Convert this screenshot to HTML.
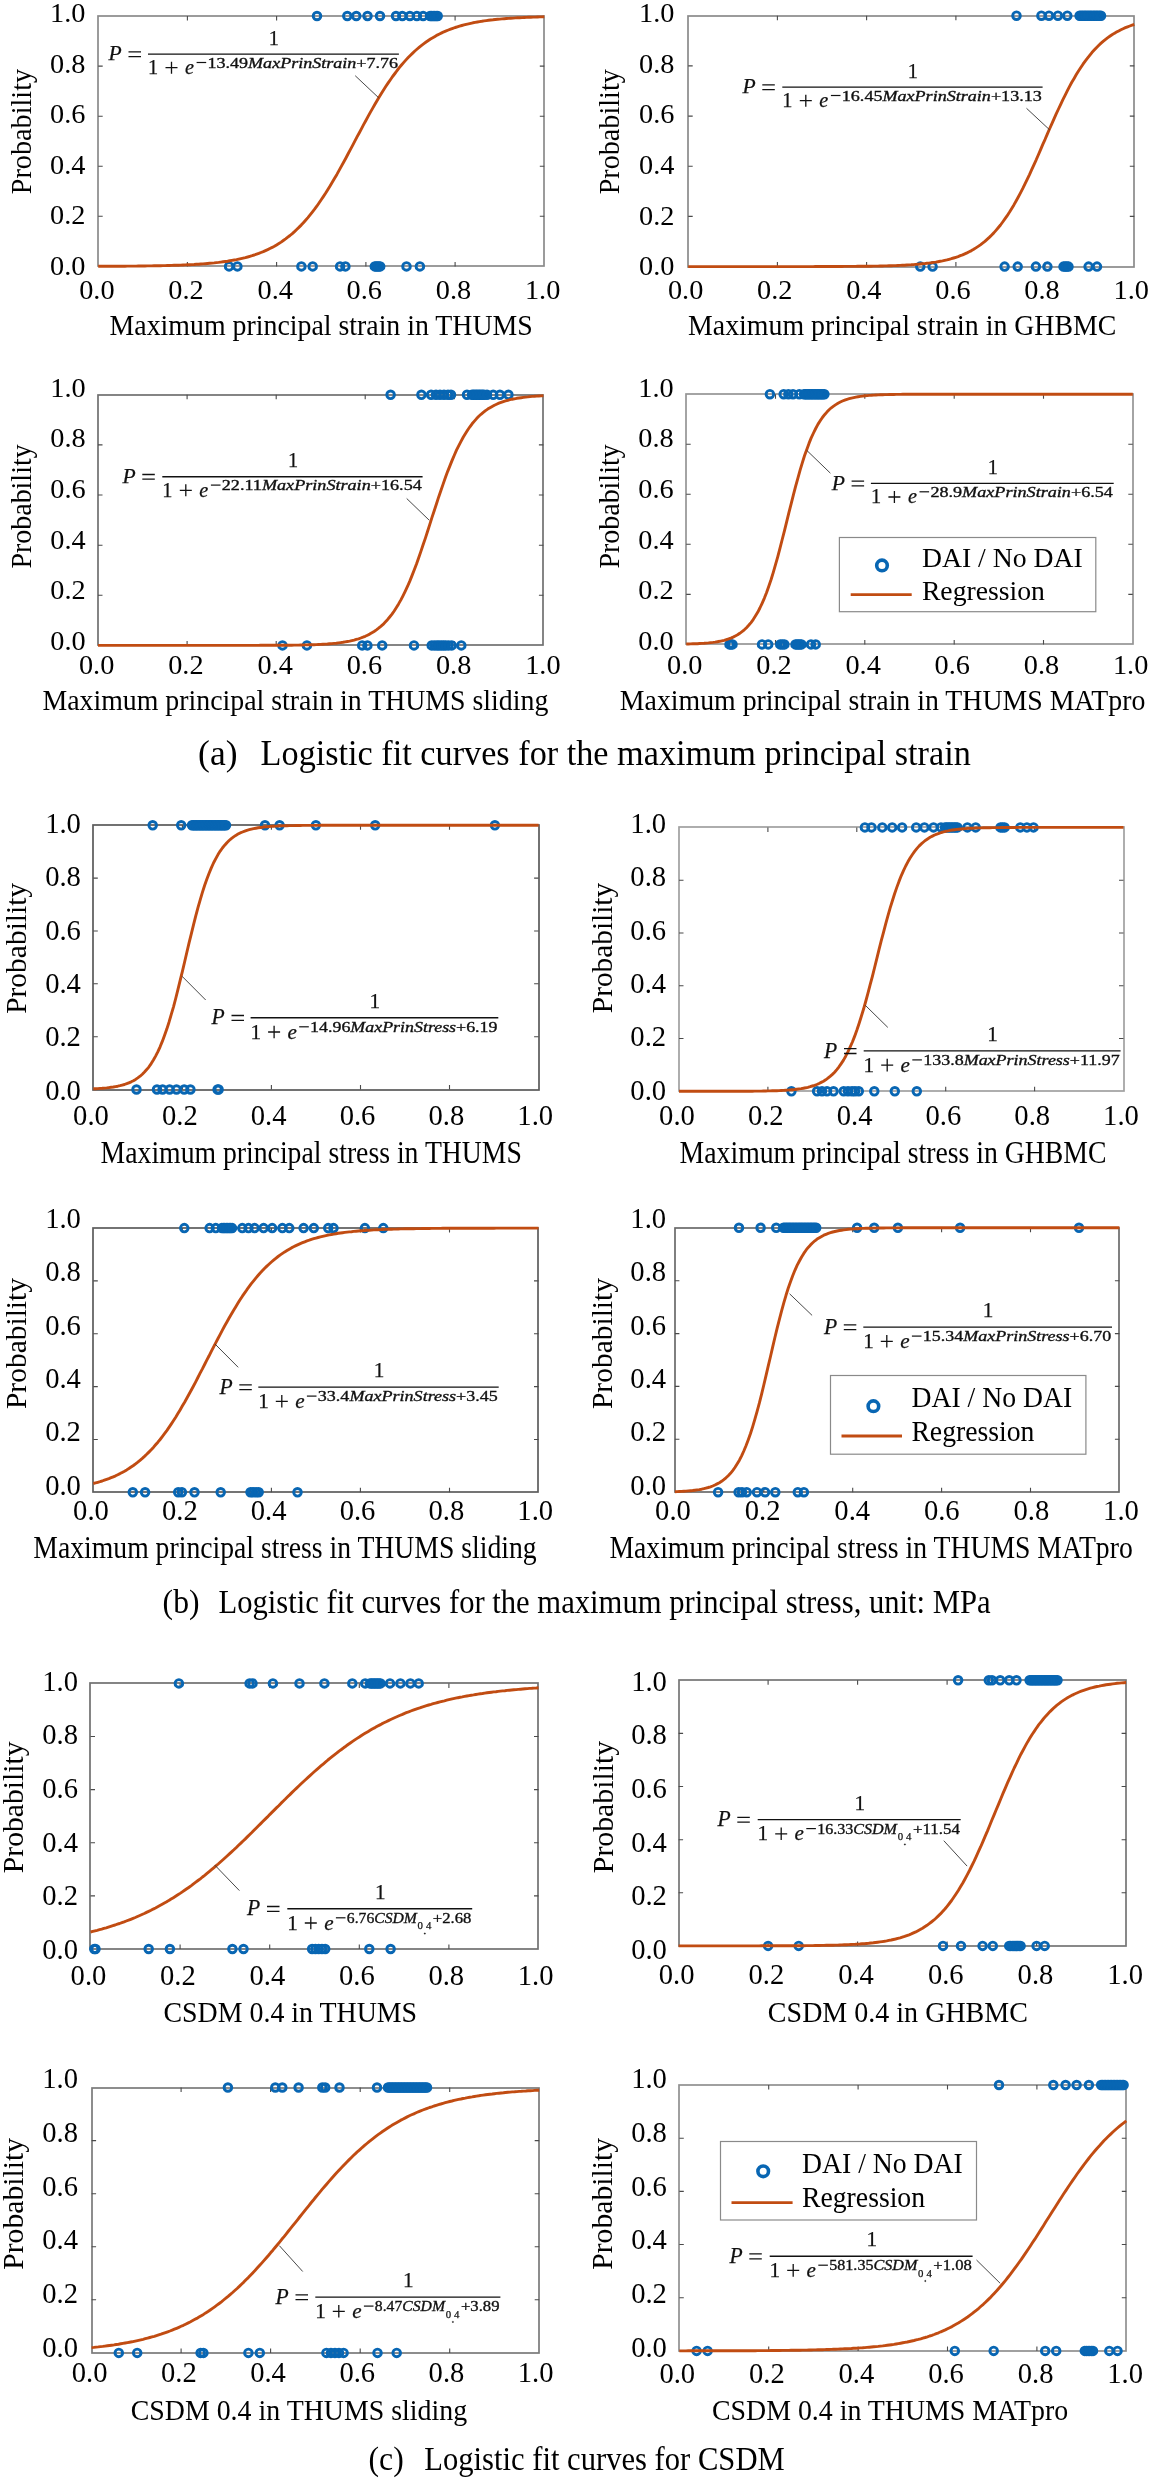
<!DOCTYPE html>
<html><head><meta charset="utf-8"><style>html,body{margin:0;padding:0;background:#fff;}svg{display:block;will-change:transform;}</style></head><body>
<svg width="1150" height="2480" viewBox="0 0 1150 2480" font-family="'Liberation Serif', serif" fill="#000">
<rect width="1150" height="2480" fill="#fff"/>
<rect x="98" y="16" width="446" height="250" fill="none" stroke="#8a8a8a" stroke-width="1.7"/>
<path d="M187.4,266.4v-4.5M187.4,16.0v4.5M98.2,216.3h4.5M544.3,216.3h-4.5M276.6,266.4v-4.5M276.6,16.0v4.5M98.2,166.2h4.5M544.3,166.2h-4.5M365.9,266.4v-4.5M365.9,16.0v4.5M98.2,116.2h4.5M544.3,116.2h-4.5M455.1,266.4v-4.5M455.1,16.0v4.5M98.2,66.1h4.5M544.3,66.1h-4.5" stroke="#4a4a4a" stroke-width="1.1" fill="none"/>
<text x="50.10" y="22.17" font-size="28.0" textLength="35.38" lengthAdjust="spacingAndGlyphs">1.0</text>
<text x="50.10" y="72.75" font-size="28.0" textLength="35.38" lengthAdjust="spacingAndGlyphs">0.8</text>
<text x="50.10" y="123.33" font-size="28.0" textLength="35.38" lengthAdjust="spacingAndGlyphs">0.6</text>
<text x="50.10" y="173.91" font-size="28.0" textLength="35.38" lengthAdjust="spacingAndGlyphs">0.4</text>
<text x="50.10" y="224.49" font-size="28.0" textLength="35.38" lengthAdjust="spacingAndGlyphs">0.2</text>
<text x="50.10" y="275.07" font-size="28.0" textLength="35.38" lengthAdjust="spacingAndGlyphs">0.0</text>
<text x="79.21" y="299.12" font-size="28.0" textLength="35.38" lengthAdjust="spacingAndGlyphs">0.0</text>
<text x="168.35" y="299.12" font-size="28.0" textLength="35.38" lengthAdjust="spacingAndGlyphs">0.2</text>
<text x="257.49" y="299.12" font-size="28.0" textLength="35.38" lengthAdjust="spacingAndGlyphs">0.4</text>
<text x="346.63" y="299.12" font-size="28.0" textLength="35.38" lengthAdjust="spacingAndGlyphs">0.6</text>
<text x="435.77" y="299.12" font-size="28.0" textLength="35.38" lengthAdjust="spacingAndGlyphs">0.8</text>
<text x="524.91" y="299.12" font-size="28.0" textLength="35.38" lengthAdjust="spacingAndGlyphs">1.0</text>
<text x="109.60" y="334.80" font-size="28.4" textLength="423.23" lengthAdjust="spacingAndGlyphs">Maximum principal strain in THUMS</text>
<text transform="translate(30.90,194.31) rotate(-90)" font-size="28.7" textLength="125.42" lengthAdjust="spacingAndGlyphs">Probability</text>
<g fill="none" stroke="#0866b3" stroke-width="2.9"><circle cx="317.0" cy="16.0" r="3.8"/><circle cx="347.3" cy="16.0" r="3.8"/><circle cx="356.3" cy="16.0" r="3.8"/><circle cx="367.5" cy="16.0" r="3.8"/><circle cx="380.0" cy="16.0" r="3.8"/><circle cx="396.0" cy="16.0" r="3.8"/><circle cx="402.3" cy="16.0" r="3.8"/><circle cx="409.9" cy="16.0" r="3.8"/><circle cx="416.9" cy="16.0" r="3.8"/><circle cx="423.1" cy="16.0" r="3.8"/><circle cx="430.1" cy="16.0" r="3.8"/><circle cx="431.6" cy="16.0" r="3.8"/><circle cx="433.1" cy="16.0" r="3.8"/><circle cx="434.7" cy="16.0" r="3.8"/><circle cx="436.2" cy="16.0" r="3.8"/><circle cx="437.7" cy="16.0" r="3.8"/><circle cx="229.1" cy="266.4" r="3.8"/><circle cx="237.4" cy="266.4" r="3.8"/><circle cx="301.4" cy="266.4" r="3.8"/><circle cx="312.7" cy="266.4" r="3.8"/><circle cx="340.1" cy="266.4" r="3.8"/><circle cx="345.4" cy="266.4" r="3.8"/><circle cx="374.8" cy="266.4" r="3.8"/><circle cx="376.1" cy="266.4" r="3.8"/><circle cx="377.5" cy="266.4" r="3.8"/><circle cx="378.9" cy="266.4" r="3.8"/><circle cx="380.2" cy="266.4" r="3.8"/><circle cx="406.5" cy="266.4" r="3.8"/><circle cx="419.9" cy="266.4" r="3.8"/></g>
<polyline points="98.2,266.3 100.4,266.3 102.7,266.3 104.9,266.3 107.1,266.3 109.4,266.3 111.6,266.2 113.8,266.2 116.0,266.2 118.3,266.2 120.5,266.2 122.7,266.2 125.0,266.2 127.2,266.1 129.4,266.1 131.7,266.1 133.9,266.1 136.1,266.1 138.3,266.0 140.6,266.0 142.8,266.0 145.0,266.0 147.3,265.9 149.5,265.9 151.7,265.9 154.0,265.8 156.2,265.8 158.4,265.7 160.7,265.7 162.9,265.6 165.1,265.6 167.3,265.5 169.6,265.5 171.8,265.4 174.0,265.3 176.3,265.3 178.5,265.2 180.7,265.1 183.0,265.0 185.2,264.9 187.4,264.8 189.7,264.7 191.9,264.6 194.1,264.5 196.3,264.3 198.6,264.2 200.8,264.0 203.0,263.9 205.3,263.7 207.5,263.5 209.7,263.3 212.0,263.1 214.2,262.9 216.4,262.6 218.6,262.4 220.9,262.1 223.1,261.8 225.3,261.5 227.6,261.2 229.8,260.8 232.0,260.4 234.3,260.0 236.5,259.6 238.7,259.1 241.0,258.6 243.2,258.1 245.4,257.6 247.6,257.0 249.9,256.3 252.1,255.7 254.3,255.0 256.6,254.2 258.8,253.4 261.0,252.5 263.3,251.6 265.5,250.6 267.7,249.6 269.9,248.5 272.2,247.4 274.4,246.2 276.6,244.9 278.9,243.5 281.1,242.1 283.3,240.5 285.6,238.9 287.8,237.2 290.0,235.5 292.3,233.6 294.5,231.6 296.7,229.5 298.9,227.4 301.2,225.1 303.4,222.7 305.6,220.2 307.9,217.6 310.1,214.9 312.3,212.1 314.6,209.2 316.8,206.2 319.0,203.0 321.2,199.8 323.5,196.4 325.7,193.0 327.9,189.4 330.2,185.8 332.4,182.1 334.6,178.3 336.9,174.4 339.1,170.4 341.3,166.4 343.6,162.3 345.8,158.2 348.0,154.0 350.2,149.8 352.5,145.6 354.7,141.4 356.9,137.2 359.2,133.0 361.4,128.8 363.6,124.6 365.9,120.5 368.1,116.4 370.3,112.4 372.6,108.4 374.8,104.5 377.0,100.7 379.2,97.0 381.5,93.3 383.7,89.7 385.9,86.3 388.2,82.9 390.4,79.7 392.6,76.5 394.9,73.5 397.1,70.5 399.3,67.7 401.5,65.0 403.8,62.4 406.0,59.9 408.2,57.5 410.5,55.2 412.7,53.1 414.9,51.0 417.2,49.0 419.4,47.1 421.6,45.3 423.9,43.6 426.1,42.0 428.3,40.5 430.5,39.0 432.8,37.7 435.0,36.4 437.2,35.1 439.5,34.0 441.7,32.9 443.9,31.8 446.2,30.9 448.4,30.0 450.6,29.1 452.8,28.3 455.1,27.5 457.3,26.8 459.5,26.1 461.8,25.5 464.0,24.9 466.2,24.3 468.5,23.8 470.7,23.3 472.9,22.8 475.2,22.4 477.4,22.0 479.6,21.6 481.8,21.3 484.1,20.9 486.3,20.6 488.5,20.3 490.8,20.0 493.0,19.8 495.2,19.5 497.5,19.3 499.7,19.1 501.9,18.9 504.2,18.7 506.4,18.5 508.6,18.4 510.8,18.2 513.1,18.1 515.3,17.9 517.5,17.8 519.8,17.7 522.0,17.6 524.2,17.5 526.5,17.4 528.7,17.3 530.9,17.2 533.1,17.1 535.4,17.1 537.6,17.0 539.8,16.9 542.1,16.9 544.3,16.8" fill="none" stroke="#c14c12" stroke-width="2.9" stroke-linejoin="round"/>
<line x1="355.2" y1="75.7" x2="378.7" y2="97.8" stroke="#333" stroke-width="0.9"/>
<g fill="#111" stroke="#111" stroke-width="0.25">
<text x="108.6" y="60.4" font-size="21.5" font-style="italic" textLength="13.2" lengthAdjust="spacingAndGlyphs">P</text>
<path d="M128.5,51.9H141.0M128.5,56.6H141.0" stroke="#111" stroke-width="1.3"/>
<path d="M148.0,54.1H398.9" stroke="#111" stroke-width="1.4"/>
<text x="273.9" y="44.5" font-size="20.3" text-anchor="middle">1</text>
<text x="148.0" y="74.0" font-size="20.3">1</text>
<path d="M165.5,67.7H177.5M171.5,61.7V73.7" stroke="#111" stroke-width="1.3"/>
<text x="185.0" y="74.0" font-size="20.3" font-style="italic">e</text>
<path d="M196.6,62.5H206.2" stroke="#111" stroke-width="1.2"/>
<text x="207.5" y="67.5" font-size="14.6" stroke-width="0.35" textLength="190.6" lengthAdjust="spacingAndGlyphs">13.49<tspan font-style="italic">MaxPrinStrain</tspan>+7.76</text>
</g>
<rect x="688" y="16" width="446" height="251" fill="none" stroke="#8a8a8a" stroke-width="1.7"/>
<path d="M777.4,266.6v-4.5M777.4,15.7v4.5M688.2,216.4h4.5M1134.3,216.4h-4.5M866.6,266.6v-4.5M866.6,15.7v4.5M688.2,166.2h4.5M1134.3,166.2h-4.5M955.9,266.6v-4.5M955.9,15.7v4.5M688.2,116.1h4.5M1134.3,116.1h-4.5M1045.1,266.6v-4.5M1045.1,15.7v4.5M688.2,65.9h4.5M1134.3,65.9h-4.5" stroke="#4a4a4a" stroke-width="1.1" fill="none"/>
<text x="639.00" y="22.17" font-size="28.0" textLength="35.38" lengthAdjust="spacingAndGlyphs">1.0</text>
<text x="639.00" y="72.77" font-size="28.0" textLength="35.38" lengthAdjust="spacingAndGlyphs">0.8</text>
<text x="639.00" y="123.37" font-size="28.0" textLength="35.38" lengthAdjust="spacingAndGlyphs">0.6</text>
<text x="639.00" y="173.97" font-size="28.0" textLength="35.38" lengthAdjust="spacingAndGlyphs">0.4</text>
<text x="639.00" y="224.57" font-size="28.0" textLength="35.38" lengthAdjust="spacingAndGlyphs">0.2</text>
<text x="639.00" y="275.17" font-size="28.0" textLength="35.38" lengthAdjust="spacingAndGlyphs">0.0</text>
<text x="667.91" y="299.42" font-size="28.0" textLength="35.38" lengthAdjust="spacingAndGlyphs">0.0</text>
<text x="757.03" y="299.42" font-size="28.0" textLength="35.38" lengthAdjust="spacingAndGlyphs">0.2</text>
<text x="846.15" y="299.42" font-size="28.0" textLength="35.38" lengthAdjust="spacingAndGlyphs">0.4</text>
<text x="935.27" y="299.42" font-size="28.0" textLength="35.38" lengthAdjust="spacingAndGlyphs">0.6</text>
<text x="1024.39" y="299.42" font-size="28.0" textLength="35.38" lengthAdjust="spacingAndGlyphs">0.8</text>
<text x="1113.51" y="299.42" font-size="28.0" textLength="35.38" lengthAdjust="spacingAndGlyphs">1.0</text>
<text x="688.10" y="334.60" font-size="28.4" textLength="428.24" lengthAdjust="spacingAndGlyphs">Maximum principal strain in GHBMC</text>
<text transform="translate(619.20,194.31) rotate(-90)" font-size="28.7" textLength="125.12" lengthAdjust="spacingAndGlyphs">Probability</text>
<g fill="none" stroke="#0866b3" stroke-width="2.9"><circle cx="1016.5" cy="15.7" r="3.8"/><circle cx="1041.4" cy="15.7" r="3.8"/><circle cx="1049.0" cy="15.7" r="3.8"/><circle cx="1057.9" cy="15.7" r="3.8"/><circle cx="1067.3" cy="15.7" r="3.8"/><circle cx="1079.6" cy="15.7" r="3.8"/><circle cx="1081.1" cy="15.7" r="3.8"/><circle cx="1082.7" cy="15.7" r="3.8"/><circle cx="1084.2" cy="15.7" r="3.8"/><circle cx="1085.7" cy="15.7" r="3.8"/><circle cx="1087.2" cy="15.7" r="3.8"/><circle cx="1088.8" cy="15.7" r="3.8"/><circle cx="1090.3" cy="15.7" r="3.8"/><circle cx="1091.8" cy="15.7" r="3.8"/><circle cx="1093.4" cy="15.7" r="3.8"/><circle cx="1094.9" cy="15.7" r="3.8"/><circle cx="1096.4" cy="15.7" r="3.8"/><circle cx="1097.9" cy="15.7" r="3.8"/><circle cx="1099.5" cy="15.7" r="3.8"/><circle cx="1101.0" cy="15.7" r="3.8"/><circle cx="920.3" cy="266.6" r="3.8"/><circle cx="932.6" cy="266.6" r="3.8"/><circle cx="1004.6" cy="266.6" r="3.8"/><circle cx="1017.7" cy="266.6" r="3.8"/><circle cx="1035.9" cy="266.6" r="3.8"/><circle cx="1047.4" cy="266.6" r="3.8"/><circle cx="1063.5" cy="266.6" r="3.8"/><circle cx="1065.2" cy="266.6" r="3.8"/><circle cx="1066.8" cy="266.6" r="3.8"/><circle cx="1068.5" cy="266.6" r="3.8"/><circle cx="1088.6" cy="266.6" r="3.8"/><circle cx="1097.0" cy="266.6" r="3.8"/></g>
<polyline points="688.2,266.6 690.4,266.6 692.7,266.6 694.9,266.6 697.1,266.6 699.4,266.6 701.6,266.6 703.8,266.6 706.0,266.6 708.3,266.6 710.5,266.6 712.7,266.6 715.0,266.6 717.2,266.6 719.4,266.6 721.7,266.6 723.9,266.6 726.1,266.6 728.3,266.6 730.6,266.6 732.8,266.6 735.0,266.6 737.3,266.6 739.5,266.6 741.7,266.6 744.0,266.6 746.2,266.6 748.4,266.6 750.7,266.6 752.9,266.6 755.1,266.6 757.3,266.6 759.6,266.6 761.8,266.6 764.0,266.6 766.3,266.6 768.5,266.6 770.7,266.6 773.0,266.6 775.2,266.6 777.4,266.6 779.7,266.6 781.9,266.6 784.1,266.6 786.3,266.6 788.6,266.6 790.8,266.6 793.0,266.6 795.3,266.6 797.5,266.6 799.7,266.6 802.0,266.6 804.2,266.6 806.4,266.6 808.6,266.6 810.9,266.6 813.1,266.6 815.3,266.5 817.6,266.5 819.8,266.5 822.0,266.5 824.3,266.5 826.5,266.5 828.7,266.5 831.0,266.5 833.2,266.5 835.4,266.5 837.6,266.5 839.9,266.5 842.1,266.5 844.3,266.4 846.6,266.4 848.8,266.4 851.0,266.4 853.3,266.4 855.5,266.4 857.7,266.3 859.9,266.3 862.2,266.3 864.4,266.3 866.6,266.2 868.9,266.2 871.1,266.2 873.3,266.1 875.6,266.1 877.8,266.1 880.0,266.0 882.3,266.0 884.5,265.9 886.7,265.9 888.9,265.8 891.2,265.7 893.4,265.6 895.6,265.6 897.9,265.5 900.1,265.4 902.3,265.3 904.6,265.2 906.8,265.0 909.0,264.9 911.2,264.8 913.5,264.6 915.7,264.4 917.9,264.2 920.2,264.0 922.4,263.8 924.6,263.6 926.9,263.3 929.1,263.1 931.3,262.8 933.6,262.4 935.8,262.1 938.0,261.7 940.2,261.3 942.5,260.9 944.7,260.4 946.9,259.9 949.2,259.3 951.4,258.7 953.6,258.0 955.9,257.3 958.1,256.6 960.3,255.7 962.6,254.9 964.8,253.9 967.0,252.9 969.2,251.8 971.5,250.6 973.7,249.3 975.9,247.9 978.2,246.4 980.4,244.9 982.6,243.2 984.9,241.4 987.1,239.4 989.3,237.4 991.5,235.2 993.8,232.9 996.0,230.4 998.2,227.8 1000.5,225.0 1002.7,222.0 1004.9,218.9 1007.2,215.7 1009.4,212.3 1011.6,208.7 1013.9,204.9 1016.1,201.0 1018.3,197.0 1020.5,192.8 1022.8,188.4 1025.0,183.9 1027.2,179.3 1029.5,174.6 1031.7,169.7 1033.9,164.8 1036.2,159.8 1038.4,154.7 1040.6,149.6 1042.8,144.4 1045.1,139.3 1047.3,134.1 1049.5,129.0 1051.8,123.9 1054.0,118.9 1056.2,113.9 1058.5,109.0 1060.7,104.3 1062.9,99.6 1065.2,95.1 1067.4,90.7 1069.6,86.4 1071.8,82.3 1074.1,78.4 1076.3,74.6 1078.5,71.0 1080.8,67.5 1083.0,64.2 1085.2,61.1 1087.5,58.1 1089.7,55.3 1091.9,52.6 1094.2,50.1 1096.4,47.7 1098.6,45.5 1100.8,43.4 1103.1,41.4 1105.3,39.6 1107.5,37.9 1109.8,36.3 1112.0,34.8 1114.2,33.4 1116.5,32.1 1118.7,30.9 1120.9,29.7 1123.1,28.7 1125.4,27.7 1127.6,26.8 1129.8,26.0 1132.1,25.2 1134.3,24.5" fill="none" stroke="#c14c12" stroke-width="2.9" stroke-linejoin="round"/>
<line x1="1026.5" y1="108.3" x2="1049.8" y2="130.0" stroke="#333" stroke-width="0.9"/>
<g fill="#111" stroke="#111" stroke-width="0.25">
<text x="742.4" y="93.4" font-size="21.5" font-style="italic" textLength="13.2" lengthAdjust="spacingAndGlyphs">P</text>
<path d="M762.3,84.9H774.8M762.3,89.6H774.8" stroke="#111" stroke-width="1.3"/>
<path d="M782.3,87.1H1042.6" stroke="#111" stroke-width="1.4"/>
<text x="912.9" y="77.5" font-size="20.3" text-anchor="middle">1</text>
<text x="782.3" y="107.0" font-size="20.3">1</text>
<path d="M799.8,100.7H811.8M805.8,94.7V106.7" stroke="#111" stroke-width="1.3"/>
<text x="819.3" y="107.0" font-size="20.3" font-style="italic">e</text>
<path d="M830.9,95.5H840.5" stroke="#111" stroke-width="1.2"/>
<text x="841.8" y="100.5" font-size="14.6" stroke-width="0.35" textLength="200.0" lengthAdjust="spacingAndGlyphs">16.45<tspan font-style="italic">MaxPrinStrain</tspan>+13.13</text>
</g>
<rect x="98" y="395" width="445" height="250" fill="none" stroke="#707070" stroke-width="1.7"/>
<path d="M187.1,645.4v-4.5M187.1,394.8v4.5M98.0,595.3h4.5M543.4,595.3h-4.5M276.2,645.4v-4.5M276.2,394.8v4.5M98.0,545.2h4.5M543.4,545.2h-4.5M365.2,645.4v-4.5M365.2,394.8v4.5M98.0,495.0h4.5M543.4,495.0h-4.5M454.3,645.4v-4.5M454.3,394.8v4.5M98.0,444.9h4.5M543.4,444.9h-4.5" stroke="#4a4a4a" stroke-width="1.1" fill="none"/>
<text x="50.30" y="396.77" font-size="28.0" textLength="35.38" lengthAdjust="spacingAndGlyphs">1.0</text>
<text x="50.30" y="447.37" font-size="28.0" textLength="35.38" lengthAdjust="spacingAndGlyphs">0.8</text>
<text x="50.30" y="497.97" font-size="28.0" textLength="35.38" lengthAdjust="spacingAndGlyphs">0.6</text>
<text x="50.30" y="548.57" font-size="28.0" textLength="35.38" lengthAdjust="spacingAndGlyphs">0.4</text>
<text x="50.30" y="599.17" font-size="28.0" textLength="35.38" lengthAdjust="spacingAndGlyphs">0.2</text>
<text x="50.30" y="649.77" font-size="28.0" textLength="35.38" lengthAdjust="spacingAndGlyphs">0.0</text>
<text x="78.91" y="673.62" font-size="28.0" textLength="35.38" lengthAdjust="spacingAndGlyphs">0.0</text>
<text x="168.17" y="673.62" font-size="28.0" textLength="35.38" lengthAdjust="spacingAndGlyphs">0.2</text>
<text x="257.43" y="673.62" font-size="28.0" textLength="35.38" lengthAdjust="spacingAndGlyphs">0.4</text>
<text x="346.69" y="673.62" font-size="28.0" textLength="35.38" lengthAdjust="spacingAndGlyphs">0.6</text>
<text x="435.95" y="673.62" font-size="28.0" textLength="35.38" lengthAdjust="spacingAndGlyphs">0.8</text>
<text x="525.21" y="673.62" font-size="28.0" textLength="35.38" lengthAdjust="spacingAndGlyphs">1.0</text>
<text x="42.40" y="709.70" font-size="28.4" textLength="505.93" lengthAdjust="spacingAndGlyphs">Maximum principal strain in THUMS sliding</text>
<text transform="translate(30.80,568.50) rotate(-90)" font-size="28.7" textLength="124.11" lengthAdjust="spacingAndGlyphs">Probability</text>
<g fill="none" stroke="#0866b3" stroke-width="2.9"><circle cx="390.6" cy="394.8" r="3.8"/><circle cx="421.4" cy="394.8" r="3.8"/><circle cx="431.1" cy="394.8" r="3.8"/><circle cx="436.0" cy="394.8" r="3.8"/><circle cx="440.0" cy="394.8" r="3.8"/><circle cx="444.0" cy="394.8" r="3.8"/><circle cx="448.0" cy="394.8" r="3.8"/><circle cx="451.0" cy="394.8" r="3.8"/><circle cx="467.0" cy="394.8" r="3.8"/><circle cx="472.0" cy="394.8" r="3.8"/><circle cx="473.5" cy="394.8" r="3.8"/><circle cx="475.0" cy="394.8" r="3.8"/><circle cx="476.5" cy="394.8" r="3.8"/><circle cx="478.0" cy="394.8" r="3.8"/><circle cx="479.5" cy="394.8" r="3.8"/><circle cx="481.0" cy="394.8" r="3.8"/><circle cx="482.5" cy="394.8" r="3.8"/><circle cx="484.0" cy="394.8" r="3.8"/><circle cx="487.0" cy="394.8" r="3.8"/><circle cx="493.2" cy="394.8" r="3.8"/><circle cx="499.9" cy="394.8" r="3.8"/><circle cx="508.4" cy="394.8" r="3.8"/><circle cx="282.5" cy="645.4" r="3.8"/><circle cx="306.9" cy="645.4" r="3.8"/><circle cx="362.2" cy="645.4" r="3.8"/><circle cx="367.4" cy="645.4" r="3.8"/><circle cx="382.2" cy="645.4" r="3.8"/><circle cx="414.0" cy="645.4" r="3.8"/><circle cx="431.7" cy="645.4" r="3.8"/><circle cx="434.5" cy="645.4" r="3.8"/><circle cx="437.0" cy="645.4" r="3.8"/><circle cx="439.0" cy="645.4" r="3.8"/><circle cx="441.3" cy="645.4" r="3.8"/><circle cx="443.5" cy="645.4" r="3.8"/><circle cx="445.7" cy="645.4" r="3.8"/><circle cx="448.5" cy="645.4" r="3.8"/><circle cx="451.7" cy="645.4" r="3.8"/><circle cx="461.3" cy="645.4" r="3.8"/></g>
<polyline points="98.0,645.4 100.2,645.4 102.5,645.4 104.7,645.4 106.9,645.4 109.1,645.4 111.4,645.4 113.6,645.4 115.8,645.4 118.0,645.4 120.3,645.4 122.5,645.4 124.7,645.4 127.0,645.4 129.2,645.4 131.4,645.4 133.6,645.4 135.9,645.4 138.1,645.4 140.3,645.4 142.5,645.4 144.8,645.4 147.0,645.4 149.2,645.4 151.4,645.4 153.7,645.4 155.9,645.4 158.1,645.4 160.4,645.4 162.6,645.4 164.8,645.4 167.0,645.4 169.3,645.4 171.5,645.4 173.7,645.4 175.9,645.4 178.2,645.4 180.4,645.4 182.6,645.4 184.9,645.4 187.1,645.4 189.3,645.4 191.5,645.4 193.8,645.4 196.0,645.4 198.2,645.4 200.4,645.4 202.7,645.4 204.9,645.4 207.1,645.4 209.3,645.4 211.6,645.4 213.8,645.4 216.0,645.4 218.3,645.4 220.5,645.4 222.7,645.4 224.9,645.4 227.2,645.4 229.4,645.4 231.6,645.4 233.8,645.4 236.1,645.4 238.3,645.4 240.5,645.4 242.8,645.4 245.0,645.4 247.2,645.4 249.4,645.4 251.7,645.4 253.9,645.4 256.1,645.4 258.3,645.4 260.6,645.3 262.8,645.3 265.0,645.3 267.3,645.3 269.5,645.3 271.7,645.3 273.9,645.3 276.2,645.3 278.4,645.3 280.6,645.3 282.8,645.2 285.1,645.2 287.3,645.2 289.5,645.2 291.7,645.2 294.0,645.1 296.2,645.1 298.4,645.1 300.7,645.0 302.9,645.0 305.1,644.9 307.3,644.9 309.6,644.8 311.8,644.7 314.0,644.7 316.2,644.6 318.5,644.5 320.7,644.4 322.9,644.2 325.2,644.1 327.4,644.0 329.6,643.8 331.8,643.6 334.1,643.4 336.3,643.2 338.5,642.9 340.7,642.6 343.0,642.3 345.2,641.9 347.4,641.5 349.7,641.1 351.9,640.6 354.1,640.1 356.3,639.4 358.6,638.8 360.8,638.0 363.0,637.2 365.2,636.3 367.5,635.2 369.7,634.1 371.9,632.8 374.1,631.5 376.4,629.9 378.6,628.2 380.8,626.4 383.1,624.4 385.3,622.1 387.5,619.7 389.7,617.0 392.0,614.1 394.2,611.0 396.4,607.5 398.6,603.9 400.9,599.9 403.1,595.6 405.3,591.1 407.6,586.2 409.8,581.1 412.0,575.6 414.2,569.9 416.5,564.0 418.7,557.8 420.9,551.4 423.1,544.8 425.4,538.1 427.6,531.3 429.8,524.4 432.0,517.4 434.3,510.5 436.5,503.7 438.7,496.9 441.0,490.3 443.2,483.9 445.4,477.6 447.6,471.6 449.9,465.9 452.1,460.4 454.3,455.2 456.5,450.2 458.8,445.6 461.0,441.3 463.2,437.2 465.5,433.5 467.7,430.0 469.9,426.8 472.1,423.8 474.4,421.1 476.6,418.6 478.8,416.3 481.0,414.3 483.3,412.4 485.5,410.6 487.7,409.1 490.0,407.7 492.2,406.4 494.4,405.2 496.6,404.2 498.9,403.2 501.1,402.4 503.3,401.6 505.5,400.9 507.8,400.3 510.0,399.7 512.2,399.2 514.4,398.8 516.7,398.3 518.9,398.0 521.1,397.7 523.4,397.4 525.6,397.1 527.8,396.9 530.0,396.6 532.3,396.4 534.5,396.3 536.7,396.1 538.9,396.0 541.2,395.9 543.4,395.8" fill="none" stroke="#c14c12" stroke-width="2.9" stroke-linejoin="round"/>
<line x1="406.7" y1="498.5" x2="429.2" y2="520.2" stroke="#333" stroke-width="0.9"/>
<g fill="#111" stroke="#111" stroke-width="0.25">
<text x="122.4" y="483.0" font-size="21.5" font-style="italic" textLength="13.2" lengthAdjust="spacingAndGlyphs">P</text>
<path d="M142.3,474.5H154.8M142.3,479.2H154.8" stroke="#111" stroke-width="1.3"/>
<path d="M162.3,476.7H422.6" stroke="#111" stroke-width="1.4"/>
<text x="293.0" y="467.1" font-size="20.3" text-anchor="middle">1</text>
<text x="162.3" y="496.6" font-size="20.3">1</text>
<path d="M179.8,490.3H191.8M185.8,484.3V496.3" stroke="#111" stroke-width="1.3"/>
<text x="199.3" y="496.6" font-size="20.3" font-style="italic">e</text>
<path d="M210.9,485.1H220.5" stroke="#111" stroke-width="1.2"/>
<text x="221.8" y="490.1" font-size="14.6" stroke-width="0.35" textLength="200.0" lengthAdjust="spacingAndGlyphs">22.11<tspan font-style="italic">MaxPrinStrain</tspan>+16.54</text>
</g>
<rect x="686" y="394" width="447" height="250" fill="none" stroke="#959595" stroke-width="1.7"/>
<path d="M775.5,644.4v-4.5M775.5,394.2v4.5M686.2,594.4h4.5M1132.8,594.4h-4.5M864.8,644.4v-4.5M864.8,394.2v4.5M686.2,544.3h4.5M1132.8,544.3h-4.5M954.2,644.4v-4.5M954.2,394.2v4.5M686.2,494.3h4.5M1132.8,494.3h-4.5M1043.5,644.4v-4.5M1043.5,394.2v4.5M686.2,444.2h4.5M1132.8,444.2h-4.5" stroke="#4a4a4a" stroke-width="1.1" fill="none"/>
<text x="638.30" y="396.87" font-size="28.0" textLength="35.38" lengthAdjust="spacingAndGlyphs">1.0</text>
<text x="638.30" y="447.47" font-size="28.0" textLength="35.38" lengthAdjust="spacingAndGlyphs">0.8</text>
<text x="638.30" y="498.07" font-size="28.0" textLength="35.38" lengthAdjust="spacingAndGlyphs">0.6</text>
<text x="638.30" y="548.67" font-size="28.0" textLength="35.38" lengthAdjust="spacingAndGlyphs">0.4</text>
<text x="638.30" y="599.27" font-size="28.0" textLength="35.38" lengthAdjust="spacingAndGlyphs">0.2</text>
<text x="638.30" y="649.87" font-size="28.0" textLength="35.38" lengthAdjust="spacingAndGlyphs">0.0</text>
<text x="667.11" y="673.52" font-size="28.0" textLength="35.38" lengthAdjust="spacingAndGlyphs">0.0</text>
<text x="756.27" y="673.52" font-size="28.0" textLength="35.38" lengthAdjust="spacingAndGlyphs">0.2</text>
<text x="845.43" y="673.52" font-size="28.0" textLength="35.38" lengthAdjust="spacingAndGlyphs">0.4</text>
<text x="934.59" y="673.52" font-size="28.0" textLength="35.38" lengthAdjust="spacingAndGlyphs">0.6</text>
<text x="1023.75" y="673.52" font-size="28.0" textLength="35.38" lengthAdjust="spacingAndGlyphs">0.8</text>
<text x="1112.91" y="673.52" font-size="28.0" textLength="35.38" lengthAdjust="spacingAndGlyphs">1.0</text>
<text x="619.80" y="709.70" font-size="28.4" textLength="525.65" lengthAdjust="spacingAndGlyphs">Maximum principal strain in THUMS MATpro</text>
<text transform="translate(619.00,568.50) rotate(-90)" font-size="28.7" textLength="124.11" lengthAdjust="spacingAndGlyphs">Probability</text>
<g fill="none" stroke="#0866b3" stroke-width="2.9"><circle cx="769.9" cy="394.2" r="3.8"/><circle cx="783.7" cy="394.2" r="3.8"/><circle cx="788.4" cy="394.2" r="3.8"/><circle cx="793.0" cy="394.2" r="3.8"/><circle cx="799.3" cy="394.2" r="3.8"/><circle cx="804.0" cy="394.2" r="3.8"/><circle cx="805.5" cy="394.2" r="3.8"/><circle cx="806.9" cy="394.2" r="3.8"/><circle cx="808.4" cy="394.2" r="3.8"/><circle cx="809.8" cy="394.2" r="3.8"/><circle cx="811.3" cy="394.2" r="3.8"/><circle cx="812.7" cy="394.2" r="3.8"/><circle cx="814.2" cy="394.2" r="3.8"/><circle cx="815.7" cy="394.2" r="3.8"/><circle cx="817.1" cy="394.2" r="3.8"/><circle cx="818.6" cy="394.2" r="3.8"/><circle cx="820.0" cy="394.2" r="3.8"/><circle cx="821.5" cy="394.2" r="3.8"/><circle cx="822.9" cy="394.2" r="3.8"/><circle cx="824.4" cy="394.2" r="3.8"/><circle cx="729.5" cy="644.4" r="3.8"/><circle cx="731.0" cy="644.4" r="3.8"/><circle cx="732.5" cy="644.4" r="3.8"/><circle cx="762.0" cy="644.4" r="3.8"/><circle cx="768.2" cy="644.4" r="3.8"/><circle cx="780.2" cy="644.4" r="3.8"/><circle cx="782.3" cy="644.4" r="3.8"/><circle cx="784.4" cy="644.4" r="3.8"/><circle cx="795.5" cy="644.4" r="3.8"/><circle cx="797.0" cy="644.4" r="3.8"/><circle cx="798.5" cy="644.4" r="3.8"/><circle cx="800.0" cy="644.4" r="3.8"/><circle cx="801.5" cy="644.4" r="3.8"/><circle cx="811.0" cy="644.4" r="3.8"/><circle cx="815.7" cy="644.4" r="3.8"/></g>
<polyline points="686.2,644.0 688.4,644.0 690.7,643.9 692.9,643.8 695.1,643.8 697.4,643.7 699.6,643.5 701.8,643.4 704.1,643.3 706.3,643.1 708.5,642.9 710.8,642.6 713.0,642.4 715.2,642.1 717.5,641.7 719.7,641.3 721.9,640.8 724.2,640.3 726.4,639.6 728.6,638.9 730.9,638.1 733.1,637.1 735.3,636.0 737.6,634.8 739.8,633.3 742.0,631.7 744.3,629.8 746.5,627.7 748.7,625.3 751.0,622.6 753.2,619.6 755.4,616.1 757.7,612.3 759.9,608.0 762.1,603.3 764.4,598.1 766.6,592.4 768.8,586.2 771.1,579.5 773.3,572.3 775.5,564.7 777.8,556.6 780.0,548.2 782.2,539.5 784.5,530.7 786.7,521.6 788.9,512.6 791.2,503.7 793.4,494.8 795.6,486.3 797.9,478.1 800.1,470.2 802.3,462.8 804.5,455.8 806.8,449.4 809.0,443.4 811.2,437.9 813.5,433.0 815.7,428.5 817.9,424.4 820.2,420.8 822.4,417.5 824.6,414.7 826.9,412.1 829.1,409.8 831.3,407.8 833.6,406.1 835.8,404.6 838.0,403.2 840.3,402.0 842.5,401.0 844.7,400.1 847.0,399.3 849.2,398.7 851.4,398.1 853.7,397.6 855.9,397.1 858.1,396.7 860.4,396.4 862.6,396.1 864.8,395.8 867.1,395.6 869.3,395.4 871.5,395.3 873.8,395.1 876.0,395.0 878.2,394.9 880.5,394.8 882.7,394.7 884.9,394.6 887.2,394.6 889.4,394.5 891.6,394.5 893.9,394.5 896.1,394.4 898.3,394.4 900.6,394.4 902.8,394.3 905.0,394.3 907.3,394.3 909.5,394.3 911.7,394.3 914.0,394.3 916.2,394.3 918.4,394.3 920.7,394.2 922.9,394.2 925.1,394.2 927.4,394.2 929.6,394.2 931.8,394.2 934.1,394.2 936.3,394.2 938.5,394.2 940.8,394.2 943.0,394.2 945.2,394.2 947.5,394.2 949.7,394.2 951.9,394.2 954.2,394.2 956.4,394.2 958.6,394.2 960.9,394.2 963.1,394.2 965.3,394.2 967.6,394.2 969.8,394.2 972.0,394.2 974.3,394.2 976.5,394.2 978.7,394.2 981.0,394.2 983.2,394.2 985.4,394.2 987.7,394.2 989.9,394.2 992.1,394.2 994.4,394.2 996.6,394.2 998.8,394.2 1001.1,394.2 1003.3,394.2 1005.5,394.2 1007.8,394.2 1010.0,394.2 1012.2,394.2 1014.5,394.2 1016.7,394.2 1018.9,394.2 1021.1,394.2 1023.4,394.2 1025.6,394.2 1027.8,394.2 1030.1,394.2 1032.3,394.2 1034.5,394.2 1036.8,394.2 1039.0,394.2 1041.2,394.2 1043.5,394.2 1045.7,394.2 1047.9,394.2 1050.2,394.2 1052.4,394.2 1054.6,394.2 1056.9,394.2 1059.1,394.2 1061.3,394.2 1063.6,394.2 1065.8,394.2 1068.0,394.2 1070.3,394.2 1072.5,394.2 1074.7,394.2 1077.0,394.2 1079.2,394.2 1081.4,394.2 1083.7,394.2 1085.9,394.2 1088.1,394.2 1090.4,394.2 1092.6,394.2 1094.8,394.2 1097.1,394.2 1099.3,394.2 1101.5,394.2 1103.8,394.2 1106.0,394.2 1108.2,394.2 1110.5,394.2 1112.7,394.2 1114.9,394.2 1117.2,394.2 1119.4,394.2 1121.6,394.2 1123.9,394.2 1126.1,394.2 1128.3,394.2 1130.6,394.2 1132.8,394.2" fill="none" stroke="#c14c12" stroke-width="2.9" stroke-linejoin="round"/>
<line x1="806.7" y1="450.3" x2="830.4" y2="473.2" stroke="#333" stroke-width="0.9"/>
<g fill="#111" stroke="#111" stroke-width="0.25">
<text x="831.7" y="489.7" font-size="21.5" font-style="italic" textLength="13.2" lengthAdjust="spacingAndGlyphs">P</text>
<path d="M851.6,481.2H864.1M851.6,485.9H864.1" stroke="#111" stroke-width="1.3"/>
<path d="M870.9,483.4H1113.7" stroke="#111" stroke-width="1.4"/>
<text x="992.8" y="473.8" font-size="20.3" text-anchor="middle">1</text>
<text x="870.9" y="503.3" font-size="20.3">1</text>
<path d="M888.4,497.0H900.4M894.4,491.0V503.0" stroke="#111" stroke-width="1.3"/>
<text x="907.9" y="503.3" font-size="20.3" font-style="italic">e</text>
<path d="M919.5,491.8H929.1" stroke="#111" stroke-width="1.2"/>
<text x="930.4" y="496.8" font-size="14.6" stroke-width="0.35" textLength="182.5" lengthAdjust="spacingAndGlyphs">28.9<tspan font-style="italic">MaxPrinStrain</tspan>+6.54</text>
</g>
<rect x="839.4" y="537.5" width="256.4" height="74.2" fill="#fff" stroke="#8a8a8a" stroke-width="1.2"/>
<circle cx="882.0" cy="565.4" r="5.3" fill="none" stroke="#0866b3" stroke-width="3.6"/>
<line x1="850.7" y1="594.6" x2="911.7" y2="594.6" stroke="#c14c12" stroke-width="2.8"/>
<text x="921.90" y="567.10" font-size="28.0" textLength="160.77" lengthAdjust="spacingAndGlyphs">DAI / No DAI</text>
<text x="921.90" y="600.00" font-size="28.0" textLength="123.08" lengthAdjust="spacingAndGlyphs">Regression</text>
<rect x="93" y="825" width="446" height="265" fill="none" stroke="#5a5a5a" stroke-width="1.7"/>
<path d="M182.4,1089.5v-4.5M182.4,825.3v4.5M93.3,1036.7h4.5M538.6,1036.7h-4.5M271.4,1089.5v-4.5M271.4,825.3v4.5M93.3,983.8h4.5M538.6,983.8h-4.5M360.5,1089.5v-4.5M360.5,825.3v4.5M93.3,931.0h4.5M538.6,931.0h-4.5M449.5,1089.5v-4.5M449.5,825.3v4.5M93.3,878.1h4.5M538.6,878.1h-4.5" stroke="#4a4a4a" stroke-width="1.1" fill="none"/>
<text x="45.14" y="832.96" font-size="29.8" textLength="35.75" lengthAdjust="spacingAndGlyphs">1.0</text>
<text x="45.14" y="886.32" font-size="29.8" textLength="35.75" lengthAdjust="spacingAndGlyphs">0.8</text>
<text x="45.14" y="939.68" font-size="29.8" textLength="35.75" lengthAdjust="spacingAndGlyphs">0.6</text>
<text x="45.14" y="993.04" font-size="29.8" textLength="35.75" lengthAdjust="spacingAndGlyphs">0.4</text>
<text x="45.14" y="1046.40" font-size="29.8" textLength="35.75" lengthAdjust="spacingAndGlyphs">0.2</text>
<text x="45.14" y="1099.76" font-size="29.8" textLength="35.75" lengthAdjust="spacingAndGlyphs">0.0</text>
<text x="73.12" y="1125.22" font-size="29.8" textLength="35.75" lengthAdjust="spacingAndGlyphs">0.0</text>
<text x="161.97" y="1125.22" font-size="29.8" textLength="35.75" lengthAdjust="spacingAndGlyphs">0.2</text>
<text x="250.81" y="1125.22" font-size="29.8" textLength="35.75" lengthAdjust="spacingAndGlyphs">0.4</text>
<text x="339.65" y="1125.22" font-size="29.8" textLength="35.75" lengthAdjust="spacingAndGlyphs">0.6</text>
<text x="428.49" y="1125.22" font-size="29.8" textLength="35.75" lengthAdjust="spacingAndGlyphs">0.8</text>
<text x="517.33" y="1125.22" font-size="29.8" textLength="35.75" lengthAdjust="spacingAndGlyphs">1.0</text>
<text x="100.60" y="1162.60" font-size="30.7" textLength="421.31" lengthAdjust="spacingAndGlyphs">Maximum principal stress in THUMS</text>
<text transform="translate(25.70,1013.85) rotate(-90)" font-size="29.6" textLength="130.96" lengthAdjust="spacingAndGlyphs">Probability</text>
<g fill="none" stroke="#0866b3" stroke-width="2.9"><circle cx="152.7" cy="825.3" r="3.8"/><circle cx="181.2" cy="825.3" r="3.8"/><circle cx="192.0" cy="825.3" r="3.8"/><circle cx="193.5" cy="825.3" r="3.8"/><circle cx="195.0" cy="825.3" r="3.8"/><circle cx="196.4" cy="825.3" r="3.8"/><circle cx="197.9" cy="825.3" r="3.8"/><circle cx="199.4" cy="825.3" r="3.8"/><circle cx="200.9" cy="825.3" r="3.8"/><circle cx="202.3" cy="825.3" r="3.8"/><circle cx="203.8" cy="825.3" r="3.8"/><circle cx="205.3" cy="825.3" r="3.8"/><circle cx="206.8" cy="825.3" r="3.8"/><circle cx="208.3" cy="825.3" r="3.8"/><circle cx="209.7" cy="825.3" r="3.8"/><circle cx="211.2" cy="825.3" r="3.8"/><circle cx="212.7" cy="825.3" r="3.8"/><circle cx="214.2" cy="825.3" r="3.8"/><circle cx="215.7" cy="825.3" r="3.8"/><circle cx="217.1" cy="825.3" r="3.8"/><circle cx="218.6" cy="825.3" r="3.8"/><circle cx="220.1" cy="825.3" r="3.8"/><circle cx="221.6" cy="825.3" r="3.8"/><circle cx="223.0" cy="825.3" r="3.8"/><circle cx="224.5" cy="825.3" r="3.8"/><circle cx="226.0" cy="825.3" r="3.8"/><circle cx="265.0" cy="825.3" r="3.8"/><circle cx="279.6" cy="825.3" r="3.8"/><circle cx="315.9" cy="825.3" r="3.8"/><circle cx="375.2" cy="825.3" r="3.8"/><circle cx="494.9" cy="825.3" r="3.8"/><circle cx="136.5" cy="1089.5" r="3.8"/><circle cx="157.0" cy="1089.5" r="3.8"/><circle cx="162.6" cy="1089.5" r="3.8"/><circle cx="169.6" cy="1089.5" r="3.8"/><circle cx="176.5" cy="1089.5" r="3.8"/><circle cx="184.2" cy="1089.5" r="3.8"/><circle cx="190.4" cy="1089.5" r="3.8"/><circle cx="217.6" cy="1089.5" r="3.8"/><circle cx="218.6" cy="1089.5" r="3.8"/></g>
<polyline points="93.3,1088.8 95.5,1088.7 97.8,1088.6 100.0,1088.4 102.2,1088.3 104.4,1088.1 106.7,1087.9 108.9,1087.6 111.1,1087.3 113.3,1087.0 115.6,1086.6 117.8,1086.2 120.0,1085.7 122.2,1085.1 124.5,1084.5 126.7,1083.7 128.9,1082.8 131.2,1081.8 133.4,1080.7 135.6,1079.4 137.8,1077.9 140.1,1076.2 142.3,1074.2 144.5,1072.0 146.7,1069.6 149.0,1066.8 151.2,1063.6 153.4,1060.0 155.6,1056.1 157.9,1051.7 160.1,1046.8 162.3,1041.4 164.5,1035.5 166.8,1029.1 169.0,1022.2 171.2,1014.7 173.5,1006.8 175.7,998.5 177.9,989.7 180.1,980.7 182.4,971.4 184.6,962.0 186.8,952.5 189.0,943.1 191.3,933.9 193.5,924.8 195.7,916.1 197.9,907.8 200.2,899.9 202.4,892.4 204.6,885.5 206.9,879.1 209.1,873.2 211.3,867.9 213.5,863.0 215.8,858.6 218.0,854.6 220.2,851.1 222.4,848.0 224.7,845.2 226.9,842.7 229.1,840.5 231.3,838.6 233.6,836.9 235.8,835.4 238.0,834.1 240.2,832.9 242.5,832.0 244.7,831.1 246.9,830.3 249.2,829.7 251.4,829.1 253.6,828.6 255.8,828.2 258.1,827.8 260.3,827.5 262.5,827.2 264.7,826.9 267.0,826.7 269.2,826.5 271.4,826.4 273.6,826.2 275.9,826.1 278.1,826.0 280.3,825.9 282.6,825.8 284.8,825.7 287.0,825.7 289.2,825.6 291.5,825.6 293.7,825.6 295.9,825.5 298.1,825.5 300.4,825.5 302.6,825.4 304.8,825.4 307.0,825.4 309.3,825.4 311.5,825.4 313.7,825.4 315.9,825.4 318.2,825.4 320.4,825.3 322.6,825.3 324.9,825.3 327.1,825.3 329.3,825.3 331.5,825.3 333.8,825.3 336.0,825.3 338.2,825.3 340.4,825.3 342.7,825.3 344.9,825.3 347.1,825.3 349.3,825.3 351.6,825.3 353.8,825.3 356.0,825.3 358.3,825.3 360.5,825.3 362.7,825.3 364.9,825.3 367.2,825.3 369.4,825.3 371.6,825.3 373.8,825.3 376.1,825.3 378.3,825.3 380.5,825.3 382.7,825.3 385.0,825.3 387.2,825.3 389.4,825.3 391.7,825.3 393.9,825.3 396.1,825.3 398.3,825.3 400.6,825.3 402.8,825.3 405.0,825.3 407.2,825.3 409.5,825.3 411.7,825.3 413.9,825.3 416.1,825.3 418.4,825.3 420.6,825.3 422.8,825.3 425.0,825.3 427.3,825.3 429.5,825.3 431.7,825.3 434.0,825.3 436.2,825.3 438.4,825.3 440.6,825.3 442.9,825.3 445.1,825.3 447.3,825.3 449.5,825.3 451.8,825.3 454.0,825.3 456.2,825.3 458.4,825.3 460.7,825.3 462.9,825.3 465.1,825.3 467.4,825.3 469.6,825.3 471.8,825.3 474.0,825.3 476.3,825.3 478.5,825.3 480.7,825.3 482.9,825.3 485.2,825.3 487.4,825.3 489.6,825.3 491.8,825.3 494.1,825.3 496.3,825.3 498.5,825.3 500.7,825.3 503.0,825.3 505.2,825.3 507.4,825.3 509.7,825.3 511.9,825.3 514.1,825.3 516.3,825.3 518.6,825.3 520.8,825.3 523.0,825.3 525.2,825.3 527.5,825.3 529.7,825.3 531.9,825.3 534.1,825.3 536.4,825.3 538.6,825.3" fill="none" stroke="#c14c12" stroke-width="2.9" stroke-linejoin="round"/>
<line x1="182.1" y1="976.3" x2="205.7" y2="1000.0" stroke="#333" stroke-width="0.9"/>
<g fill="#111" stroke="#111" stroke-width="0.25">
<text x="211.6" y="1024.4" font-size="22.5" font-style="italic" textLength="13.2" lengthAdjust="spacingAndGlyphs">P</text>
<path d="M231.5,1015.5H244.0M231.5,1020.4H244.0" stroke="#111" stroke-width="1.3"/>
<path d="M250.6,1017.8H498.3" stroke="#111" stroke-width="1.4"/>
<text x="374.9" y="1007.8" font-size="21.2" text-anchor="middle">1</text>
<text x="250.5" y="1038.6" font-size="21.2">1</text>
<path d="M268.1,1032.0H280.1M274.1,1025.7V1038.3" stroke="#111" stroke-width="1.3"/>
<text x="287.5" y="1038.6" font-size="21.2" font-style="italic">e</text>
<path d="M299.2,1026.8H308.8" stroke="#111" stroke-width="1.2"/>
<text x="310.1" y="1032.0" font-size="15.3" stroke-width="0.35" textLength="187.4" lengthAdjust="spacingAndGlyphs">14.96<tspan font-style="italic">MaxPrinStress</tspan>+6.19</text>
</g>
<rect x="679" y="827" width="445" height="264" fill="none" stroke="#a0a0a0" stroke-width="1.7"/>
<path d="M767.9,1091.3v-4.5M767.9,827.4v4.5M679.0,1038.5h4.5M1123.5,1038.5h-4.5M856.8,1091.3v-4.5M856.8,827.4v4.5M679.0,985.7h4.5M1123.5,985.7h-4.5M945.7,1091.3v-4.5M945.7,827.4v4.5M679.0,933.0h4.5M1123.5,933.0h-4.5M1034.6,1091.3v-4.5M1034.6,827.4v4.5M679.0,880.2h4.5M1123.5,880.2h-4.5" stroke="#4a4a4a" stroke-width="1.1" fill="none"/>
<text x="630.34" y="832.96" font-size="29.8" textLength="35.75" lengthAdjust="spacingAndGlyphs">1.0</text>
<text x="630.34" y="886.32" font-size="29.8" textLength="35.75" lengthAdjust="spacingAndGlyphs">0.8</text>
<text x="630.34" y="939.68" font-size="29.8" textLength="35.75" lengthAdjust="spacingAndGlyphs">0.6</text>
<text x="630.34" y="993.04" font-size="29.8" textLength="35.75" lengthAdjust="spacingAndGlyphs">0.4</text>
<text x="630.34" y="1046.40" font-size="29.8" textLength="35.75" lengthAdjust="spacingAndGlyphs">0.2</text>
<text x="630.34" y="1099.76" font-size="29.8" textLength="35.75" lengthAdjust="spacingAndGlyphs">0.0</text>
<text x="659.12" y="1124.62" font-size="29.8" textLength="35.75" lengthAdjust="spacingAndGlyphs">0.0</text>
<text x="747.92" y="1124.62" font-size="29.8" textLength="35.75" lengthAdjust="spacingAndGlyphs">0.2</text>
<text x="836.73" y="1124.62" font-size="29.8" textLength="35.75" lengthAdjust="spacingAndGlyphs">0.4</text>
<text x="925.52" y="1124.62" font-size="29.8" textLength="35.75" lengthAdjust="spacingAndGlyphs">0.6</text>
<text x="1014.33" y="1124.62" font-size="29.8" textLength="35.75" lengthAdjust="spacingAndGlyphs">0.8</text>
<text x="1103.12" y="1124.62" font-size="29.8" textLength="35.75" lengthAdjust="spacingAndGlyphs">1.0</text>
<text x="679.60" y="1162.60" font-size="30.7" textLength="426.93" lengthAdjust="spacingAndGlyphs">Maximum principal stress in GHBMC</text>
<text transform="translate(611.70,1013.14) rotate(-90)" font-size="29.6" textLength="130.26" lengthAdjust="spacingAndGlyphs">Probability</text>
<g fill="none" stroke="#0866b3" stroke-width="2.9"><circle cx="864.9" cy="827.4" r="3.8"/><circle cx="871.5" cy="827.4" r="3.8"/><circle cx="882.3" cy="827.4" r="3.8"/><circle cx="892.2" cy="827.4" r="3.8"/><circle cx="902.1" cy="827.4" r="3.8"/><circle cx="916.2" cy="827.4" r="3.8"/><circle cx="924.4" cy="827.4" r="3.8"/><circle cx="933.5" cy="827.4" r="3.8"/><circle cx="941.0" cy="827.4" r="3.8"/><circle cx="945.0" cy="827.4" r="3.8"/><circle cx="946.6" cy="827.4" r="3.8"/><circle cx="948.1" cy="827.4" r="3.8"/><circle cx="949.7" cy="827.4" r="3.8"/><circle cx="951.2" cy="827.4" r="3.8"/><circle cx="952.8" cy="827.4" r="3.8"/><circle cx="954.4" cy="827.4" r="3.8"/><circle cx="955.9" cy="827.4" r="3.8"/><circle cx="957.5" cy="827.4" r="3.8"/><circle cx="967.4" cy="827.4" r="3.8"/><circle cx="975.7" cy="827.4" r="3.8"/><circle cx="1000.5" cy="827.4" r="3.8"/><circle cx="1002.5" cy="827.4" r="3.8"/><circle cx="1004.6" cy="827.4" r="3.8"/><circle cx="1020.3" cy="827.4" r="3.8"/><circle cx="1026.9" cy="827.4" r="3.8"/><circle cx="1033.5" cy="827.4" r="3.8"/><circle cx="791.4" cy="1091.3" r="3.8"/><circle cx="817.1" cy="1091.3" r="3.8"/><circle cx="822.0" cy="1091.3" r="3.8"/><circle cx="827.0" cy="1091.3" r="3.8"/><circle cx="833.5" cy="1091.3" r="3.8"/><circle cx="843.7" cy="1091.3" r="3.8"/><circle cx="848.0" cy="1091.3" r="3.8"/><circle cx="852.0" cy="1091.3" r="3.8"/><circle cx="855.0" cy="1091.3" r="3.8"/><circle cx="858.8" cy="1091.3" r="3.8"/><circle cx="874.3" cy="1091.3" r="3.8"/><circle cx="894.8" cy="1091.3" r="3.8"/><circle cx="916.8" cy="1091.3" r="3.8"/></g>
<polyline points="679.0,1091.3 681.2,1091.3 683.4,1091.3 685.7,1091.3 687.9,1091.3 690.1,1091.3 692.3,1091.3 694.6,1091.3 696.8,1091.3 699.0,1091.3 701.2,1091.3 703.4,1091.3 705.7,1091.3 707.9,1091.3 710.1,1091.3 712.3,1091.3 714.6,1091.3 716.8,1091.3 719.0,1091.3 721.2,1091.3 723.5,1091.3 725.7,1091.3 727.9,1091.3 730.1,1091.3 732.3,1091.3 734.6,1091.3 736.8,1091.2 739.0,1091.2 741.2,1091.2 743.5,1091.2 745.7,1091.2 747.9,1091.2 750.1,1091.2 752.3,1091.2 754.6,1091.1 756.8,1091.1 759.0,1091.1 761.2,1091.1 763.5,1091.0 765.7,1091.0 767.9,1090.9 770.1,1090.9 772.3,1090.8 774.6,1090.8 776.8,1090.7 779.0,1090.6 781.2,1090.5 783.5,1090.4 785.7,1090.2 787.9,1090.1 790.1,1089.9 792.3,1089.7 794.6,1089.5 796.8,1089.2 799.0,1088.9 801.2,1088.6 803.5,1088.2 805.7,1087.8 807.9,1087.3 810.1,1086.7 812.4,1086.0 814.6,1085.3 816.8,1084.5 819.0,1083.5 821.2,1082.4 823.5,1081.2 825.7,1079.8 827.9,1078.2 830.1,1076.4 832.4,1074.4 834.6,1072.2 836.8,1069.6 839.0,1066.8 841.2,1063.6 843.5,1060.1 845.7,1056.2 847.9,1051.9 850.1,1047.2 852.4,1042.0 854.6,1036.4 856.8,1030.3 859.0,1023.7 861.2,1016.7 863.5,1009.3 865.7,1001.5 867.9,993.4 870.1,984.9 872.4,976.3 874.6,967.5 876.8,958.6 879.0,949.7 881.2,940.9 883.5,932.3 885.7,923.9 887.9,915.8 890.1,908.1 892.4,900.8 894.6,893.8 896.8,887.4 899.0,881.4 901.2,875.8 903.5,870.7 905.7,866.0 907.9,861.8 910.1,858.0 912.4,854.5 914.6,851.4 916.8,848.6 919.0,846.1 921.3,843.9 923.5,842.0 925.7,840.2 927.9,838.7 930.1,837.3 932.4,836.1 934.6,835.0 936.8,834.1 939.0,833.3 941.3,832.5 943.5,831.9 945.7,831.3 947.9,830.9 950.1,830.4 952.4,830.0 954.6,829.7 956.8,829.4 959.0,829.2 961.3,829.0 963.5,828.8 965.7,828.6 967.9,828.4 970.1,828.3 972.4,828.2 974.6,828.1 976.8,828.0 979.0,827.9 981.3,827.9 983.5,827.8 985.7,827.8 987.9,827.7 990.1,827.7 992.4,827.6 994.6,827.6 996.8,827.6 999.0,827.6 1001.3,827.5 1003.5,827.5 1005.7,827.5 1007.9,827.5 1010.2,827.5 1012.4,827.5 1014.6,827.5 1016.8,827.5 1019.0,827.4 1021.3,827.4 1023.5,827.4 1025.7,827.4 1027.9,827.4 1030.2,827.4 1032.4,827.4 1034.6,827.4 1036.8,827.4 1039.0,827.4 1041.3,827.4 1043.5,827.4 1045.7,827.4 1047.9,827.4 1050.2,827.4 1052.4,827.4 1054.6,827.4 1056.8,827.4 1059.0,827.4 1061.3,827.4 1063.5,827.4 1065.7,827.4 1067.9,827.4 1070.2,827.4 1072.4,827.4 1074.6,827.4 1076.8,827.4 1079.0,827.4 1081.3,827.4 1083.5,827.4 1085.7,827.4 1087.9,827.4 1090.2,827.4 1092.4,827.4 1094.6,827.4 1096.8,827.4 1099.1,827.4 1101.3,827.4 1103.5,827.4 1105.7,827.4 1107.9,827.4 1110.2,827.4 1112.4,827.4 1114.6,827.4 1116.8,827.4 1119.1,827.4 1121.3,827.4 1123.5,827.4" fill="none" stroke="#c14c12" stroke-width="2.9" stroke-linejoin="round"/>
<line x1="865.3" y1="1005.3" x2="887.8" y2="1027.4" stroke="#333" stroke-width="0.9"/>
<g fill="#111" stroke="#111" stroke-width="0.25">
<text x="824.1" y="1057.5" font-size="22.5" font-style="italic" textLength="13.2" lengthAdjust="spacingAndGlyphs">P</text>
<path d="M844.0,1048.6H856.5M844.0,1053.5H856.5" stroke="#111" stroke-width="1.3"/>
<path d="M863.7,1050.9H1120.6" stroke="#111" stroke-width="1.4"/>
<text x="992.6" y="1040.9" font-size="21.2" text-anchor="middle">1</text>
<text x="863.6" y="1071.7" font-size="21.2">1</text>
<path d="M881.2,1065.1H893.2M887.2,1058.8V1071.4" stroke="#111" stroke-width="1.3"/>
<text x="900.6" y="1071.7" font-size="21.2" font-style="italic">e</text>
<path d="M912.3,1059.9H921.9" stroke="#111" stroke-width="1.2"/>
<text x="923.2" y="1065.1" font-size="15.3" stroke-width="0.35" textLength="196.6" lengthAdjust="spacingAndGlyphs">133.8<tspan font-style="italic">MaxPrinStress</tspan>+11.97</text>
</g>
<rect x="93" y="1228" width="445" height="264" fill="none" stroke="#5c5c5c" stroke-width="1.7"/>
<path d="M182.3,1492.3v-4.5M182.3,1228.1v4.5M93.3,1439.5h4.5M538.5,1439.5h-4.5M271.4,1492.3v-4.5M271.4,1228.1v4.5M93.3,1386.6h4.5M538.5,1386.6h-4.5M360.4,1492.3v-4.5M360.4,1228.1v4.5M93.3,1333.8h4.5M538.5,1333.8h-4.5M449.5,1492.3v-4.5M449.5,1228.1v4.5M93.3,1280.9h4.5M538.5,1280.9h-4.5" stroke="#4a4a4a" stroke-width="1.1" fill="none"/>
<text x="45.14" y="1227.76" font-size="29.8" textLength="35.75" lengthAdjust="spacingAndGlyphs">1.0</text>
<text x="45.14" y="1281.16" font-size="29.8" textLength="35.75" lengthAdjust="spacingAndGlyphs">0.8</text>
<text x="45.14" y="1334.56" font-size="29.8" textLength="35.75" lengthAdjust="spacingAndGlyphs">0.6</text>
<text x="45.14" y="1387.96" font-size="29.8" textLength="35.75" lengthAdjust="spacingAndGlyphs">0.4</text>
<text x="45.14" y="1441.36" font-size="29.8" textLength="35.75" lengthAdjust="spacingAndGlyphs">0.2</text>
<text x="45.14" y="1494.76" font-size="29.8" textLength="35.75" lengthAdjust="spacingAndGlyphs">0.0</text>
<text x="73.12" y="1520.32" font-size="29.8" textLength="35.75" lengthAdjust="spacingAndGlyphs">0.0</text>
<text x="161.97" y="1520.32" font-size="29.8" textLength="35.75" lengthAdjust="spacingAndGlyphs">0.2</text>
<text x="250.81" y="1520.32" font-size="29.8" textLength="35.75" lengthAdjust="spacingAndGlyphs">0.4</text>
<text x="339.65" y="1520.32" font-size="29.8" textLength="35.75" lengthAdjust="spacingAndGlyphs">0.6</text>
<text x="428.49" y="1520.32" font-size="29.8" textLength="35.75" lengthAdjust="spacingAndGlyphs">0.8</text>
<text x="517.33" y="1520.32" font-size="29.8" textLength="35.75" lengthAdjust="spacingAndGlyphs">1.0</text>
<text x="33.30" y="1557.60" font-size="30.7" textLength="503.42" lengthAdjust="spacingAndGlyphs">Maximum principal stress in THUMS sliding</text>
<text transform="translate(25.70,1409.05) rotate(-90)" font-size="29.6" textLength="131.06" lengthAdjust="spacingAndGlyphs">Probability</text>
<g fill="none" stroke="#0866b3" stroke-width="2.9"><circle cx="184.3" cy="1228.1" r="3.8"/><circle cx="209.6" cy="1228.1" r="3.8"/><circle cx="215.8" cy="1228.1" r="3.8"/><circle cx="221.9" cy="1228.1" r="3.8"/><circle cx="223.4" cy="1228.1" r="3.8"/><circle cx="224.8" cy="1228.1" r="3.8"/><circle cx="226.3" cy="1228.1" r="3.8"/><circle cx="227.7" cy="1228.1" r="3.8"/><circle cx="229.2" cy="1228.1" r="3.8"/><circle cx="230.6" cy="1228.1" r="3.8"/><circle cx="232.1" cy="1228.1" r="3.8"/><circle cx="242.3" cy="1228.1" r="3.8"/><circle cx="248.5" cy="1228.1" r="3.8"/><circle cx="254.6" cy="1228.1" r="3.8"/><circle cx="263.6" cy="1228.1" r="3.8"/><circle cx="272.2" cy="1228.1" r="3.8"/><circle cx="282.4" cy="1228.1" r="3.8"/><circle cx="289.3" cy="1228.1" r="3.8"/><circle cx="303.6" cy="1228.1" r="3.8"/><circle cx="313.8" cy="1228.1" r="3.8"/><circle cx="328.2" cy="1228.1" r="3.8"/><circle cx="333.5" cy="1228.1" r="3.8"/><circle cx="364.9" cy="1228.1" r="3.8"/><circle cx="383.3" cy="1228.1" r="3.8"/><circle cx="132.8" cy="1492.3" r="3.8"/><circle cx="145.1" cy="1492.3" r="3.8"/><circle cx="178.2" cy="1492.3" r="3.8"/><circle cx="181.9" cy="1492.3" r="3.8"/><circle cx="194.5" cy="1492.3" r="3.8"/><circle cx="220.7" cy="1492.3" r="3.8"/><circle cx="250.5" cy="1492.3" r="3.8"/><circle cx="253.0" cy="1492.3" r="3.8"/><circle cx="256.0" cy="1492.3" r="3.8"/><circle cx="258.7" cy="1492.3" r="3.8"/><circle cx="297.5" cy="1492.3" r="3.8"/></g>
<polyline points="93.3,1483.5 95.5,1482.9 97.8,1482.3 100.0,1481.7 102.2,1481.0 104.4,1480.2 106.7,1479.4 108.9,1478.6 111.1,1477.7 113.3,1476.8 115.6,1475.8 117.8,1474.7 120.0,1473.6 122.2,1472.4 124.5,1471.2 126.7,1469.9 128.9,1468.5 131.1,1467.0 133.4,1465.5 135.6,1463.8 137.8,1462.1 140.0,1460.3 142.3,1458.4 144.5,1456.4 146.7,1454.3 148.9,1452.1 151.2,1449.8 153.4,1447.4 155.6,1444.8 157.9,1442.2 160.1,1439.5 162.3,1436.6 164.5,1433.7 166.8,1430.6 169.0,1427.4 171.2,1424.1 173.4,1420.7 175.7,1417.2 177.9,1413.6 180.1,1409.9 182.3,1406.1 184.6,1402.3 186.8,1398.3 189.0,1394.3 191.2,1390.2 193.5,1386.0 195.7,1381.8 197.9,1377.5 200.1,1373.2 202.4,1368.9 204.6,1364.5 206.8,1360.1 209.1,1355.8 211.3,1351.4 213.5,1347.1 215.7,1342.8 218.0,1338.5 220.2,1334.3 222.4,1330.1 224.6,1326.0 226.9,1322.0 229.1,1318.0 231.3,1314.2 233.5,1310.4 235.8,1306.7 238.0,1303.1 240.2,1299.6 242.4,1296.2 244.7,1292.9 246.9,1289.7 249.1,1286.7 251.3,1283.7 253.6,1280.9 255.8,1278.1 258.0,1275.5 260.2,1273.0 262.5,1270.6 264.7,1268.3 266.9,1266.1 269.2,1264.0 271.4,1262.0 273.6,1260.1 275.8,1258.3 278.1,1256.5 280.3,1254.9 282.5,1253.4 284.7,1251.9 287.0,1250.5 289.2,1249.2 291.4,1247.9 293.6,1246.8 295.9,1245.6 298.1,1244.6 300.3,1243.6 302.5,1242.7 304.8,1241.8 307.0,1240.9 309.2,1240.2 311.4,1239.4 313.7,1238.7 315.9,1238.1 318.1,1237.5 320.4,1236.9 322.6,1236.3 324.8,1235.8 327.0,1235.3 329.3,1234.9 331.5,1234.5 333.7,1234.1 335.9,1233.7 338.2,1233.3 340.4,1233.0 342.6,1232.7 344.8,1232.4 347.1,1232.1 349.3,1231.9 351.5,1231.7 353.7,1231.4 356.0,1231.2 358.2,1231.0 360.4,1230.8 362.6,1230.7 364.9,1230.5 367.1,1230.3 369.3,1230.2 371.6,1230.1 373.8,1229.9 376.0,1229.8 378.2,1229.7 380.5,1229.6 382.7,1229.5 384.9,1229.4 387.1,1229.3 389.4,1229.3 391.6,1229.2 393.8,1229.1 396.0,1229.1 398.3,1229.0 400.5,1228.9 402.7,1228.9 404.9,1228.8 407.2,1228.8 409.4,1228.7 411.6,1228.7 413.8,1228.7 416.1,1228.6 418.3,1228.6 420.5,1228.6 422.7,1228.5 425.0,1228.5 427.2,1228.5 429.4,1228.5 431.7,1228.4 433.9,1228.4 436.1,1228.4 438.3,1228.4 440.6,1228.4 442.8,1228.3 445.0,1228.3 447.2,1228.3 449.5,1228.3 451.7,1228.3 453.9,1228.3 456.1,1228.3 458.4,1228.3 460.6,1228.2 462.8,1228.2 465.0,1228.2 467.3,1228.2 469.5,1228.2 471.7,1228.2 473.9,1228.2 476.2,1228.2 478.4,1228.2 480.6,1228.2 482.9,1228.2 485.1,1228.2 487.3,1228.2 489.5,1228.2 491.8,1228.2 494.0,1228.2 496.2,1228.1 498.4,1228.1 500.7,1228.1 502.9,1228.1 505.1,1228.1 507.3,1228.1 509.6,1228.1 511.8,1228.1 514.0,1228.1 516.2,1228.1 518.5,1228.1 520.7,1228.1 522.9,1228.1 525.1,1228.1 527.4,1228.1 529.6,1228.1 531.8,1228.1 534.0,1228.1 536.3,1228.1 538.5,1228.1" fill="none" stroke="#c14c12" stroke-width="2.9" stroke-linejoin="round"/>
<line x1="215.0" y1="1344.0" x2="238.2" y2="1367.3" stroke="#333" stroke-width="0.9"/>
<g fill="#111" stroke="#111" stroke-width="0.25">
<text x="219.4" y="1393.7" font-size="22.5" font-style="italic" textLength="13.2" lengthAdjust="spacingAndGlyphs">P</text>
<path d="M239.3,1384.8H251.8M239.3,1389.7H251.8" stroke="#111" stroke-width="1.3"/>
<path d="M258.3,1387.1H498.7" stroke="#111" stroke-width="1.4"/>
<text x="379.0" y="1377.1" font-size="21.2" text-anchor="middle">1</text>
<text x="258.2" y="1407.9" font-size="21.2">1</text>
<path d="M275.8,1401.3H287.8M281.8,1395.0V1407.6" stroke="#111" stroke-width="1.3"/>
<text x="295.2" y="1407.9" font-size="21.2" font-style="italic">e</text>
<path d="M306.9,1396.1H316.5" stroke="#111" stroke-width="1.2"/>
<text x="317.8" y="1401.3" font-size="15.3" stroke-width="0.35" textLength="180.1" lengthAdjust="spacingAndGlyphs">33.4<tspan font-style="italic">MaxPrinStress</tspan>+3.45</text>
</g>
<rect x="675" y="1228" width="444" height="264" fill="none" stroke="#6a6a6a" stroke-width="1.7"/>
<path d="M763.8,1492.2v-4.5M763.8,1227.8v4.5M674.9,1439.3h4.5M1119.4,1439.3h-4.5M852.7,1492.2v-4.5M852.7,1227.8v4.5M674.9,1386.4h4.5M1119.4,1386.4h-4.5M941.6,1492.2v-4.5M941.6,1227.8v4.5M674.9,1333.6h4.5M1119.4,1333.6h-4.5M1030.5,1492.2v-4.5M1030.5,1227.8v4.5M674.9,1280.7h4.5M1119.4,1280.7h-4.5" stroke="#4a4a4a" stroke-width="1.1" fill="none"/>
<text x="630.34" y="1227.76" font-size="29.8" textLength="35.75" lengthAdjust="spacingAndGlyphs">1.0</text>
<text x="630.34" y="1281.16" font-size="29.8" textLength="35.75" lengthAdjust="spacingAndGlyphs">0.8</text>
<text x="630.34" y="1334.56" font-size="29.8" textLength="35.75" lengthAdjust="spacingAndGlyphs">0.6</text>
<text x="630.34" y="1387.96" font-size="29.8" textLength="35.75" lengthAdjust="spacingAndGlyphs">0.4</text>
<text x="630.34" y="1441.36" font-size="29.8" textLength="35.75" lengthAdjust="spacingAndGlyphs">0.2</text>
<text x="630.34" y="1494.76" font-size="29.8" textLength="35.75" lengthAdjust="spacingAndGlyphs">0.0</text>
<text x="655.12" y="1520.12" font-size="29.8" textLength="35.75" lengthAdjust="spacingAndGlyphs">0.0</text>
<text x="744.73" y="1520.12" font-size="29.8" textLength="35.75" lengthAdjust="spacingAndGlyphs">0.2</text>
<text x="834.33" y="1520.12" font-size="29.8" textLength="35.75" lengthAdjust="spacingAndGlyphs">0.4</text>
<text x="923.92" y="1520.12" font-size="29.8" textLength="35.75" lengthAdjust="spacingAndGlyphs">0.6</text>
<text x="1013.53" y="1520.12" font-size="29.8" textLength="35.75" lengthAdjust="spacingAndGlyphs">0.8</text>
<text x="1103.12" y="1520.12" font-size="29.8" textLength="35.75" lengthAdjust="spacingAndGlyphs">1.0</text>
<text x="609.41" y="1557.60" font-size="30.7" textLength="523.34" lengthAdjust="spacingAndGlyphs">Maximum principal stress in THUMS MATpro</text>
<text transform="translate(611.70,1409.05) rotate(-90)" font-size="29.6" textLength="131.06" lengthAdjust="spacingAndGlyphs">Probability</text>
<g fill="none" stroke="#0866b3" stroke-width="2.9"><circle cx="739.0" cy="1227.8" r="3.8"/><circle cx="760.6" cy="1227.8" r="3.8"/><circle cx="776.2" cy="1227.8" r="3.8"/><circle cx="783.5" cy="1227.8" r="3.8"/><circle cx="785.0" cy="1227.8" r="3.8"/><circle cx="786.5" cy="1227.8" r="3.8"/><circle cx="788.0" cy="1227.8" r="3.8"/><circle cx="789.4" cy="1227.8" r="3.8"/><circle cx="790.9" cy="1227.8" r="3.8"/><circle cx="792.4" cy="1227.8" r="3.8"/><circle cx="793.9" cy="1227.8" r="3.8"/><circle cx="795.4" cy="1227.8" r="3.8"/><circle cx="796.9" cy="1227.8" r="3.8"/><circle cx="798.4" cy="1227.8" r="3.8"/><circle cx="799.9" cy="1227.8" r="3.8"/><circle cx="801.3" cy="1227.8" r="3.8"/><circle cx="802.8" cy="1227.8" r="3.8"/><circle cx="804.3" cy="1227.8" r="3.8"/><circle cx="805.8" cy="1227.8" r="3.8"/><circle cx="807.3" cy="1227.8" r="3.8"/><circle cx="808.8" cy="1227.8" r="3.8"/><circle cx="810.3" cy="1227.8" r="3.8"/><circle cx="811.7" cy="1227.8" r="3.8"/><circle cx="813.2" cy="1227.8" r="3.8"/><circle cx="814.7" cy="1227.8" r="3.8"/><circle cx="816.2" cy="1227.8" r="3.8"/><circle cx="857.1" cy="1227.8" r="3.8"/><circle cx="874.2" cy="1227.8" r="3.8"/><circle cx="897.9" cy="1227.8" r="3.8"/><circle cx="960.1" cy="1227.8" r="3.8"/><circle cx="1079.0" cy="1227.8" r="3.8"/><circle cx="718.1" cy="1492.2" r="3.8"/><circle cx="738.6" cy="1492.2" r="3.8"/><circle cx="742.0" cy="1492.2" r="3.8"/><circle cx="746.7" cy="1492.2" r="3.8"/><circle cx="757.0" cy="1492.2" r="3.8"/><circle cx="765.1" cy="1492.2" r="3.8"/><circle cx="775.3" cy="1492.2" r="3.8"/><circle cx="797.8" cy="1492.2" r="3.8"/><circle cx="803.9" cy="1492.2" r="3.8"/></g>
<polyline points="674.9,1491.7 677.1,1491.6 679.3,1491.5 681.6,1491.4 683.8,1491.2 686.0,1491.1 688.2,1490.9 690.5,1490.7 692.7,1490.5 694.9,1490.2 697.1,1489.9 699.3,1489.6 701.6,1489.2 703.8,1488.7 706.0,1488.1 708.2,1487.5 710.5,1486.8 712.7,1486.0 714.9,1485.0 717.1,1483.9 719.4,1482.7 721.6,1481.3 723.8,1479.6 726.0,1477.8 728.2,1475.7 730.5,1473.3 732.7,1470.6 734.9,1467.5 737.1,1464.0 739.4,1460.2 741.6,1455.8 743.8,1451.0 746.0,1445.7 748.2,1439.9 750.5,1433.5 752.7,1426.6 754.9,1419.2 757.1,1411.3 759.4,1402.9 761.6,1394.1 763.8,1385.0 766.0,1375.6 768.2,1366.1 770.5,1356.5 772.7,1346.9 774.9,1337.5 777.1,1328.3 779.4,1319.4 781.6,1310.9 783.8,1302.9 786.0,1295.3 788.2,1288.3 790.5,1281.8 792.7,1275.8 794.9,1270.3 797.1,1265.4 799.4,1261.0 801.6,1257.0 803.8,1253.4 806.0,1250.2 808.2,1247.4 810.5,1244.9 812.7,1242.8 814.9,1240.8 817.1,1239.1 819.4,1237.7 821.6,1236.4 823.8,1235.2 826.0,1234.3 828.3,1233.4 830.5,1232.7 832.7,1232.0 834.9,1231.5 837.1,1231.0 839.4,1230.5 841.6,1230.2 843.8,1229.9 846.0,1229.6 848.3,1229.3 850.5,1229.1 852.7,1229.0 854.9,1228.8 857.1,1228.7 859.4,1228.5 861.6,1228.4 863.8,1228.4 866.0,1228.3 868.3,1228.2 870.5,1228.2 872.7,1228.1 874.9,1228.1 877.1,1228.0 879.4,1228.0 881.6,1228.0 883.8,1228.0 886.0,1227.9 888.3,1227.9 890.5,1227.9 892.7,1227.9 894.9,1227.9 897.2,1227.9 899.4,1227.9 901.6,1227.8 903.8,1227.8 906.0,1227.8 908.3,1227.8 910.5,1227.8 912.7,1227.8 914.9,1227.8 917.2,1227.8 919.4,1227.8 921.6,1227.8 923.8,1227.8 926.0,1227.8 928.3,1227.8 930.5,1227.8 932.7,1227.8 934.9,1227.8 937.2,1227.8 939.4,1227.8 941.6,1227.8 943.8,1227.8 946.0,1227.8 948.3,1227.8 950.5,1227.8 952.7,1227.8 954.9,1227.8 957.2,1227.8 959.4,1227.8 961.6,1227.8 963.8,1227.8 966.0,1227.8 968.3,1227.8 970.5,1227.8 972.7,1227.8 974.9,1227.8 977.2,1227.8 979.4,1227.8 981.6,1227.8 983.8,1227.8 986.0,1227.8 988.3,1227.8 990.5,1227.8 992.7,1227.8 994.9,1227.8 997.2,1227.8 999.4,1227.8 1001.6,1227.8 1003.8,1227.8 1006.1,1227.8 1008.3,1227.8 1010.5,1227.8 1012.7,1227.8 1014.9,1227.8 1017.2,1227.8 1019.4,1227.8 1021.6,1227.8 1023.8,1227.8 1026.1,1227.8 1028.3,1227.8 1030.5,1227.8 1032.7,1227.8 1034.9,1227.8 1037.2,1227.8 1039.4,1227.8 1041.6,1227.8 1043.8,1227.8 1046.1,1227.8 1048.3,1227.8 1050.5,1227.8 1052.7,1227.8 1054.9,1227.8 1057.2,1227.8 1059.4,1227.8 1061.6,1227.8 1063.8,1227.8 1066.1,1227.8 1068.3,1227.8 1070.5,1227.8 1072.7,1227.8 1075.0,1227.8 1077.2,1227.8 1079.4,1227.8 1081.6,1227.8 1083.8,1227.8 1086.1,1227.8 1088.3,1227.8 1090.5,1227.8 1092.7,1227.8 1095.0,1227.8 1097.2,1227.8 1099.4,1227.8 1101.6,1227.8 1103.8,1227.8 1106.1,1227.8 1108.3,1227.8 1110.5,1227.8 1112.7,1227.8 1115.0,1227.8 1117.2,1227.8 1119.4,1227.8" fill="none" stroke="#c14c12" stroke-width="2.9" stroke-linejoin="round"/>
<line x1="789.6" y1="1293.8" x2="812.1" y2="1315.4" stroke="#333" stroke-width="0.9"/>
<g fill="#111" stroke="#111" stroke-width="0.25">
<text x="823.9" y="1333.7" font-size="22.5" font-style="italic" textLength="13.2" lengthAdjust="spacingAndGlyphs">P</text>
<path d="M843.8,1324.8H856.3M843.8,1329.7H856.3" stroke="#111" stroke-width="1.3"/>
<path d="M863.3,1327.1H1112.0" stroke="#111" stroke-width="1.4"/>
<text x="988.1" y="1317.1" font-size="21.2" text-anchor="middle">1</text>
<text x="863.2" y="1347.9" font-size="21.2">1</text>
<path d="M880.8,1341.3H892.8M886.8,1335.0V1347.6" stroke="#111" stroke-width="1.3"/>
<text x="900.2" y="1347.9" font-size="21.2" font-style="italic">e</text>
<path d="M911.9,1336.1H921.5" stroke="#111" stroke-width="1.2"/>
<text x="922.8" y="1341.3" font-size="15.3" stroke-width="0.35" textLength="188.4" lengthAdjust="spacingAndGlyphs">15.34<tspan font-style="italic">MaxPrinStress</tspan>+6.70</text>
</g>
<rect x="830.5" y="1375.5" width="255.4" height="78.7" fill="#fff" stroke="#8a8a8a" stroke-width="1.2"/>
<circle cx="873.4" cy="1406.2" r="5.3" fill="none" stroke="#0866b3" stroke-width="3.6"/>
<line x1="841.5" y1="1436.0" x2="902.0" y2="1436.0" stroke="#c14c12" stroke-width="2.8"/>
<text x="911.40" y="1407.00" font-size="30.0" textLength="160.77" lengthAdjust="spacingAndGlyphs">DAI / No DAI</text>
<text x="911.40" y="1440.90" font-size="30.0" textLength="123.08" lengthAdjust="spacingAndGlyphs">Regression</text>
<rect x="90" y="1683" width="448" height="266" fill="none" stroke="#707070" stroke-width="1.7"/>
<path d="M180.1,1949.0v-4.5M180.1,1683.4v4.5M90.5,1895.9h4.5M538.5,1895.9h-4.5M269.7,1949.0v-4.5M269.7,1683.4v4.5M90.5,1842.8h4.5M538.5,1842.8h-4.5M359.3,1949.0v-4.5M359.3,1683.4v4.5M90.5,1789.6h4.5M538.5,1789.6h-4.5M448.9,1949.0v-4.5M448.9,1683.4v4.5M90.5,1736.5h4.5M538.5,1736.5h-4.5" stroke="#4a4a4a" stroke-width="1.1" fill="none"/>
<text x="42.24" y="1690.80" font-size="29.9" textLength="35.75" lengthAdjust="spacingAndGlyphs">1.0</text>
<text x="42.24" y="1744.47" font-size="29.9" textLength="35.75" lengthAdjust="spacingAndGlyphs">0.8</text>
<text x="42.24" y="1798.14" font-size="29.9" textLength="35.75" lengthAdjust="spacingAndGlyphs">0.6</text>
<text x="42.24" y="1851.81" font-size="29.9" textLength="35.75" lengthAdjust="spacingAndGlyphs">0.4</text>
<text x="42.24" y="1905.48" font-size="29.9" textLength="35.75" lengthAdjust="spacingAndGlyphs">0.2</text>
<text x="42.24" y="1959.15" font-size="29.9" textLength="35.75" lengthAdjust="spacingAndGlyphs">0.0</text>
<text x="70.62" y="1984.58" font-size="29.9" textLength="35.75" lengthAdjust="spacingAndGlyphs">0.0</text>
<text x="160.06" y="1984.58" font-size="29.9" textLength="35.75" lengthAdjust="spacingAndGlyphs">0.2</text>
<text x="249.50" y="1984.58" font-size="29.9" textLength="35.75" lengthAdjust="spacingAndGlyphs">0.4</text>
<text x="338.95" y="1984.58" font-size="29.9" textLength="35.75" lengthAdjust="spacingAndGlyphs">0.6</text>
<text x="428.39" y="1984.58" font-size="29.9" textLength="35.75" lengthAdjust="spacingAndGlyphs">0.8</text>
<text x="517.83" y="1984.58" font-size="29.9" textLength="35.75" lengthAdjust="spacingAndGlyphs">1.0</text>
<text x="163.46" y="2022.10" font-size="30.4" textLength="253.67" lengthAdjust="spacingAndGlyphs">CSDM 0.4 in THUMS</text>
<text transform="translate(23.40,1873.15) rotate(-90)" font-size="29.3" textLength="131.67" lengthAdjust="spacingAndGlyphs">Probability</text>
<g fill="none" stroke="#0866b3" stroke-width="2.9"><circle cx="178.9" cy="1683.4" r="3.8"/><circle cx="249.6" cy="1683.4" r="3.8"/><circle cx="252.5" cy="1683.4" r="3.8"/><circle cx="272.9" cy="1683.4" r="3.8"/><circle cx="299.5" cy="1683.4" r="3.8"/><circle cx="324.4" cy="1683.4" r="3.8"/><circle cx="352.3" cy="1683.4" r="3.8"/><circle cx="365.2" cy="1683.4" r="3.8"/><circle cx="370.0" cy="1683.4" r="3.8"/><circle cx="371.5" cy="1683.4" r="3.8"/><circle cx="373.0" cy="1683.4" r="3.8"/><circle cx="374.5" cy="1683.4" r="3.8"/><circle cx="376.0" cy="1683.4" r="3.8"/><circle cx="377.5" cy="1683.4" r="3.8"/><circle cx="379.0" cy="1683.4" r="3.8"/><circle cx="380.5" cy="1683.4" r="3.8"/><circle cx="390.0" cy="1683.4" r="3.8"/><circle cx="400.4" cy="1683.4" r="3.8"/><circle cx="410.4" cy="1683.4" r="3.8"/><circle cx="418.7" cy="1683.4" r="3.8"/><circle cx="94.3" cy="1949.0" r="3.8"/><circle cx="95.5" cy="1949.0" r="3.8"/><circle cx="148.7" cy="1949.0" r="3.8"/><circle cx="169.9" cy="1949.0" r="3.8"/><circle cx="232.4" cy="1949.0" r="3.8"/><circle cx="243.5" cy="1949.0" r="3.8"/><circle cx="312.1" cy="1949.0" r="3.8"/><circle cx="315.4" cy="1949.0" r="3.8"/><circle cx="318.7" cy="1949.0" r="3.8"/><circle cx="322.0" cy="1949.0" r="3.8"/><circle cx="325.2" cy="1949.0" r="3.8"/><circle cx="369.3" cy="1949.0" r="3.8"/><circle cx="390.6" cy="1949.0" r="3.8"/></g>
<polyline points="90.5,1932.0 92.7,1931.4 95.0,1930.8 97.2,1930.3 99.5,1929.7 101.7,1929.1 103.9,1928.4 106.2,1927.8 108.4,1927.1 110.7,1926.4 112.9,1925.7 115.1,1925.0 117.4,1924.2 119.6,1923.5 121.9,1922.7 124.1,1921.9 126.3,1921.0 128.6,1920.2 130.8,1919.3 133.1,1918.4 135.3,1917.5 137.5,1916.5 139.8,1915.5 142.0,1914.5 144.3,1913.5 146.5,1912.4 148.7,1911.4 151.0,1910.3 153.2,1909.1 155.5,1908.0 157.7,1906.8 159.9,1905.6 162.2,1904.3 164.4,1903.1 166.7,1901.8 168.9,1900.4 171.1,1899.1 173.4,1897.7 175.6,1896.3 177.9,1894.8 180.1,1893.4 182.3,1891.9 184.6,1890.3 186.8,1888.8 189.1,1887.2 191.3,1885.6 193.5,1883.9 195.8,1882.2 198.0,1880.5 200.3,1878.8 202.5,1877.0 204.7,1875.3 207.0,1873.4 209.2,1871.6 211.5,1869.7 213.7,1867.8 215.9,1865.9 218.2,1864.0 220.4,1862.0 222.7,1860.0 224.9,1858.0 227.1,1856.0 229.4,1853.9 231.6,1851.9 233.9,1849.8 236.1,1847.7 238.3,1845.5 240.6,1843.4 242.8,1841.2 245.1,1839.1 247.3,1836.9 249.5,1834.7 251.8,1832.5 254.0,1830.3 256.3,1828.0 258.5,1825.8 260.7,1823.6 263.0,1821.3 265.2,1819.1 267.5,1816.9 269.7,1814.6 271.9,1812.4 274.2,1810.1 276.4,1807.9 278.7,1805.7 280.9,1803.4 283.1,1801.2 285.4,1799.0 287.6,1796.8 289.9,1794.6 292.1,1792.4 294.3,1790.3 296.6,1788.1 298.8,1786.0 301.1,1783.8 303.3,1781.7 305.5,1779.7 307.8,1777.6 310.0,1775.6 312.3,1773.5 314.5,1771.5 316.7,1769.6 319.0,1767.6 321.2,1765.7 323.5,1763.8 325.7,1761.9 327.9,1760.0 330.2,1758.2 332.4,1756.4 334.7,1754.6 336.9,1752.9 339.1,1751.1 341.4,1749.5 343.6,1747.8 345.9,1746.2 348.1,1744.5 350.3,1743.0 352.6,1741.4 354.8,1739.9 357.1,1738.4 359.3,1737.0 361.5,1735.5 363.8,1734.1 366.0,1732.8 368.3,1731.4 370.5,1730.1 372.7,1728.8 375.0,1727.6 377.2,1726.3 379.5,1725.1 381.7,1723.9 383.9,1722.8 386.2,1721.7 388.4,1720.6 390.7,1719.5 392.9,1718.5 395.1,1717.5 397.4,1716.5 399.6,1715.5 401.9,1714.6 404.1,1713.6 406.3,1712.7 408.6,1711.9 410.8,1711.0 413.1,1710.2 415.3,1709.4 417.5,1708.6 419.8,1707.9 422.0,1707.1 424.3,1706.4 426.5,1705.7 428.7,1705.0 431.0,1704.4 433.2,1703.7 435.5,1703.1 437.7,1702.5 439.9,1701.9 442.2,1701.3 444.4,1700.8 446.7,1700.2 448.9,1699.7 451.1,1699.2 453.4,1698.7 455.6,1698.2 457.9,1697.7 460.1,1697.3 462.3,1696.9 464.6,1696.4 466.8,1696.0 469.1,1695.6 471.3,1695.2 473.5,1694.9 475.8,1694.5 478.0,1694.1 480.3,1693.8 482.5,1693.5 484.7,1693.1 487.0,1692.8 489.2,1692.5 491.5,1692.2 493.7,1691.9 495.9,1691.7 498.2,1691.4 500.4,1691.1 502.7,1690.9 504.9,1690.7 507.1,1690.4 509.4,1690.2 511.6,1690.0 513.9,1689.8 516.1,1689.6 518.3,1689.4 520.6,1689.2 522.8,1689.0 525.1,1688.8 527.3,1688.6 529.5,1688.4 531.8,1688.3 534.0,1688.1 536.3,1688.0 538.5,1687.8" fill="none" stroke="#c14c12" stroke-width="2.9" stroke-linejoin="round"/>
<line x1="214.9" y1="1865.2" x2="239.4" y2="1890.6" stroke="#333" stroke-width="0.9"/>
<g fill="#111" stroke="#111" stroke-width="0.25">
<text x="247.1" y="1915.4" font-size="22.5" font-style="italic" textLength="13.2" lengthAdjust="spacingAndGlyphs">P</text>
<path d="M267.0,1906.5H279.5M267.0,1911.4H279.5" stroke="#111" stroke-width="1.3"/>
<path d="M287.3,1908.8H472.2" stroke="#111" stroke-width="1.4"/>
<text x="380.2" y="1898.8" font-size="21.2" text-anchor="middle">1</text>
<text x="287.2" y="1929.6" font-size="21.2">1</text>
<path d="M304.8,1923.0H316.8M310.8,1916.7V1929.3" stroke="#111" stroke-width="1.3"/>
<text x="324.2" y="1929.6" font-size="21.2" font-style="italic">e</text>
<path d="M335.9,1917.8H345.5" stroke="#111" stroke-width="1.2"/>
<text x="346.8" y="1923.0" font-size="15.3" stroke-width="0.35" textLength="70.1" lengthAdjust="spacingAndGlyphs">6.76<tspan font-style="italic">CSDM</tspan></text>
<text x="417.6" y="1929.3" font-size="10.8">0</text>
<circle cx="424.8" cy="1933.6" r="0.75"/>
<text x="425.9" y="1929.3" font-size="10.8">4</text>
<text x="432.8" y="1923.0" font-size="15.3" stroke-width="0.35" textLength="38.6" lengthAdjust="spacingAndGlyphs">+2.68</text>
</g>
<rect x="679" y="1680" width="447" height="266" fill="none" stroke="#757575" stroke-width="1.7"/>
<path d="M768.1,1945.9v-4.5M768.1,1680.3v4.5M678.6,1892.8h4.5M1126.1,1892.8h-4.5M857.6,1945.9v-4.5M857.6,1680.3v4.5M678.6,1839.7h4.5M1126.1,1839.7h-4.5M947.1,1945.9v-4.5M947.1,1680.3v4.5M678.6,1786.5h4.5M1126.1,1786.5h-4.5M1036.6,1945.9v-4.5M1036.6,1680.3v4.5M678.6,1733.4h4.5M1126.1,1733.4h-4.5" stroke="#4a4a4a" stroke-width="1.1" fill="none"/>
<text x="631.14" y="1690.80" font-size="29.9" textLength="35.75" lengthAdjust="spacingAndGlyphs">1.0</text>
<text x="631.14" y="1744.47" font-size="29.9" textLength="35.75" lengthAdjust="spacingAndGlyphs">0.8</text>
<text x="631.14" y="1798.14" font-size="29.9" textLength="35.75" lengthAdjust="spacingAndGlyphs">0.6</text>
<text x="631.14" y="1851.81" font-size="29.9" textLength="35.75" lengthAdjust="spacingAndGlyphs">0.4</text>
<text x="631.14" y="1905.48" font-size="29.9" textLength="35.75" lengthAdjust="spacingAndGlyphs">0.2</text>
<text x="631.14" y="1959.15" font-size="29.9" textLength="35.75" lengthAdjust="spacingAndGlyphs">0.0</text>
<text x="658.73" y="1984.48" font-size="29.9" textLength="35.75" lengthAdjust="spacingAndGlyphs">0.0</text>
<text x="748.45" y="1984.48" font-size="29.9" textLength="35.75" lengthAdjust="spacingAndGlyphs">0.2</text>
<text x="838.16" y="1984.48" font-size="29.9" textLength="35.75" lengthAdjust="spacingAndGlyphs">0.4</text>
<text x="927.88" y="1984.48" font-size="29.9" textLength="35.75" lengthAdjust="spacingAndGlyphs">0.6</text>
<text x="1017.61" y="1984.48" font-size="29.9" textLength="35.75" lengthAdjust="spacingAndGlyphs">0.8</text>
<text x="1107.33" y="1984.48" font-size="29.9" textLength="35.75" lengthAdjust="spacingAndGlyphs">1.0</text>
<text x="767.85" y="2022.10" font-size="30.4" textLength="260.10" lengthAdjust="spacingAndGlyphs">CSDM 0.4 in GHBMC</text>
<text transform="translate(612.70,1873.16) rotate(-90)" font-size="29.3" textLength="132.37" lengthAdjust="spacingAndGlyphs">Probability</text>
<g fill="none" stroke="#0866b3" stroke-width="2.9"><circle cx="958.1" cy="1680.3" r="3.8"/><circle cx="988.8" cy="1680.3" r="3.8"/><circle cx="992.0" cy="1680.3" r="3.8"/><circle cx="1000.2" cy="1680.3" r="3.8"/><circle cx="1009.2" cy="1680.3" r="3.8"/><circle cx="1016.5" cy="1680.3" r="3.8"/><circle cx="1029.6" cy="1680.3" r="3.8"/><circle cx="1031.1" cy="1680.3" r="3.8"/><circle cx="1032.5" cy="1680.3" r="3.8"/><circle cx="1034.0" cy="1680.3" r="3.8"/><circle cx="1035.5" cy="1680.3" r="3.8"/><circle cx="1036.9" cy="1680.3" r="3.8"/><circle cx="1038.4" cy="1680.3" r="3.8"/><circle cx="1039.9" cy="1680.3" r="3.8"/><circle cx="1041.3" cy="1680.3" r="3.8"/><circle cx="1042.8" cy="1680.3" r="3.8"/><circle cx="1044.3" cy="1680.3" r="3.8"/><circle cx="1045.8" cy="1680.3" r="3.8"/><circle cx="1047.2" cy="1680.3" r="3.8"/><circle cx="1048.7" cy="1680.3" r="3.8"/><circle cx="1050.2" cy="1680.3" r="3.8"/><circle cx="1051.6" cy="1680.3" r="3.8"/><circle cx="1053.1" cy="1680.3" r="3.8"/><circle cx="1054.6" cy="1680.3" r="3.8"/><circle cx="1056.0" cy="1680.3" r="3.8"/><circle cx="1057.5" cy="1680.3" r="3.8"/><circle cx="768.1" cy="1945.9" r="3.8"/><circle cx="798.7" cy="1945.9" r="3.8"/><circle cx="943.0" cy="1945.9" r="3.8"/><circle cx="961.0" cy="1945.9" r="3.8"/><circle cx="982.6" cy="1945.9" r="3.8"/><circle cx="992.8" cy="1945.9" r="3.8"/><circle cx="1009.2" cy="1945.9" r="3.8"/><circle cx="1010.6" cy="1945.9" r="3.8"/><circle cx="1012.1" cy="1945.9" r="3.8"/><circle cx="1013.5" cy="1945.9" r="3.8"/><circle cx="1014.9" cy="1945.9" r="3.8"/><circle cx="1016.3" cy="1945.9" r="3.8"/><circle cx="1017.8" cy="1945.9" r="3.8"/><circle cx="1019.2" cy="1945.9" r="3.8"/><circle cx="1020.6" cy="1945.9" r="3.8"/><circle cx="1036.6" cy="1945.9" r="3.8"/><circle cx="1044.7" cy="1945.9" r="3.8"/></g>
<polyline points="678.6,1945.9 680.8,1945.9 683.1,1945.9 685.3,1945.9 687.6,1945.9 689.8,1945.9 692.0,1945.9 694.3,1945.9 696.5,1945.9 698.7,1945.9 701.0,1945.9 703.2,1945.9 705.5,1945.9 707.7,1945.9 709.9,1945.9 712.2,1945.9 714.4,1945.9 716.6,1945.9 718.9,1945.9 721.1,1945.9 723.4,1945.9 725.6,1945.9 727.8,1945.9 730.1,1945.9 732.3,1945.9 734.5,1945.9 736.8,1945.9 739.0,1945.9 741.2,1945.9 743.5,1945.9 745.7,1945.9 748.0,1945.9 750.2,1945.9 752.4,1945.9 754.7,1945.9 756.9,1945.9 759.1,1945.9 761.4,1945.8 763.6,1945.8 765.9,1945.8 768.1,1945.8 770.3,1945.8 772.6,1945.8 774.8,1945.8 777.0,1945.8 779.3,1945.8 781.5,1945.8 783.8,1945.8 786.0,1945.8 788.2,1945.8 790.5,1945.7 792.7,1945.7 795.0,1945.7 797.2,1945.7 799.4,1945.7 801.7,1945.7 803.9,1945.7 806.1,1945.6 808.4,1945.6 810.6,1945.6 812.9,1945.6 815.1,1945.5 817.3,1945.5 819.6,1945.5 821.8,1945.4 824.0,1945.4 826.3,1945.3 828.5,1945.3 830.8,1945.2 833.0,1945.2 835.2,1945.1 837.5,1945.1 839.7,1945.0 841.9,1944.9 844.2,1944.8 846.4,1944.7 848.6,1944.6 850.9,1944.5 853.1,1944.4 855.4,1944.3 857.6,1944.1 859.8,1944.0 862.1,1943.8 864.3,1943.7 866.5,1943.5 868.8,1943.3 871.0,1943.0 873.3,1942.8 875.5,1942.5 877.7,1942.2 880.0,1941.9 882.2,1941.6 884.5,1941.3 886.7,1940.9 888.9,1940.4 891.2,1940.0 893.4,1939.5 895.6,1939.0 897.9,1938.4 900.1,1937.8 902.3,1937.1 904.6,1936.4 906.8,1935.6 909.1,1934.8 911.3,1933.9 913.5,1932.9 915.8,1931.9 918.0,1930.7 920.2,1929.5 922.5,1928.2 924.7,1926.8 927.0,1925.3 929.2,1923.7 931.4,1922.0 933.7,1920.2 935.9,1918.2 938.1,1916.1 940.4,1913.9 942.6,1911.5 944.9,1909.0 947.1,1906.3 949.3,1903.5 951.6,1900.5 953.8,1897.3 956.0,1894.0 958.3,1890.5 960.5,1886.8 962.8,1883.0 965.0,1879.0 967.2,1874.8 969.5,1870.5 971.7,1866.0 974.0,1861.4 976.2,1856.6 978.4,1851.7 980.7,1846.7 982.9,1841.6 985.1,1836.4 987.4,1831.1 989.6,1825.7 991.8,1820.3 994.1,1814.9 996.3,1809.5 998.6,1804.1 1000.8,1798.7 1003.0,1793.4 1005.3,1788.1 1007.5,1782.9 1009.8,1777.8 1012.0,1772.8 1014.2,1768.0 1016.5,1763.3 1018.7,1758.7 1020.9,1754.2 1023.2,1750.0 1025.4,1745.9 1027.6,1741.9 1029.9,1738.1 1032.1,1734.5 1034.4,1731.1 1036.6,1727.8 1038.8,1724.7 1041.1,1721.8 1043.3,1719.0 1045.5,1716.4 1047.8,1713.9 1050.0,1711.6 1052.3,1709.4 1054.5,1707.3 1056.7,1705.4 1059.0,1703.6 1061.2,1701.9 1063.4,1700.4 1065.7,1698.9 1067.9,1697.5 1070.2,1696.3 1072.4,1695.1 1074.6,1694.0 1076.9,1693.0 1079.1,1692.0 1081.3,1691.1 1083.6,1690.3 1085.8,1689.6 1088.1,1688.9 1090.3,1688.2 1092.5,1687.6 1094.8,1687.0 1097.0,1686.5 1099.2,1686.1 1101.5,1685.6 1103.7,1685.2 1106.0,1684.8 1108.2,1684.5 1110.4,1684.2 1112.7,1683.9 1114.9,1683.6 1117.1,1683.3 1119.4,1683.1 1121.6,1682.9 1123.9,1682.7 1126.1,1682.5" fill="none" stroke="#c14c12" stroke-width="2.9" stroke-linejoin="round"/>
<line x1="943.8" y1="1840.7" x2="967.1" y2="1866.1" stroke="#333" stroke-width="0.9"/>
<g fill="#111" stroke="#111" stroke-width="0.25">
<text x="717.4" y="1826.2" font-size="22.5" font-style="italic" textLength="13.2" lengthAdjust="spacingAndGlyphs">P</text>
<path d="M737.3,1817.3H749.8M737.3,1822.2H749.8" stroke="#111" stroke-width="1.3"/>
<path d="M757.7,1819.6H960.7" stroke="#111" stroke-width="1.4"/>
<text x="859.7" y="1809.6" font-size="21.2" text-anchor="middle">1</text>
<text x="757.6" y="1840.4" font-size="21.2">1</text>
<path d="M775.2,1833.8H787.2M781.2,1827.5V1840.1" stroke="#111" stroke-width="1.3"/>
<text x="794.6" y="1840.4" font-size="21.2" font-style="italic">e</text>
<path d="M806.3,1828.6H815.9" stroke="#111" stroke-width="1.2"/>
<text x="817.2" y="1833.8" font-size="15.3" stroke-width="0.35" textLength="79.8" lengthAdjust="spacingAndGlyphs">16.33<tspan font-style="italic">CSDM</tspan></text>
<text x="897.7" y="1840.1" font-size="10.8">0</text>
<circle cx="904.9" cy="1844.4" r="0.75"/>
<text x="906.0" y="1840.1" font-size="10.8">4</text>
<text x="912.9" y="1833.8" font-size="15.3" stroke-width="0.35" textLength="47.0" lengthAdjust="spacingAndGlyphs">+11.54</text>
</g>
<rect x="92" y="2088" width="447" height="265" fill="none" stroke="#7a7a7a" stroke-width="1.7"/>
<path d="M181.1,2352.9v-4.5M181.1,2087.5v4.5M91.6,2299.8h4.5M539.2,2299.8h-4.5M270.6,2352.9v-4.5M270.6,2087.5v4.5M91.6,2246.7h4.5M539.2,2246.7h-4.5M360.2,2352.9v-4.5M360.2,2087.5v4.5M91.6,2193.7h4.5M539.2,2193.7h-4.5M449.7,2352.9v-4.5M449.7,2087.5v4.5M91.6,2140.6h4.5M539.2,2140.6h-4.5" stroke="#4a4a4a" stroke-width="1.1" fill="none"/>
<text x="42.24" y="2088.40" font-size="29.9" textLength="35.75" lengthAdjust="spacingAndGlyphs">1.0</text>
<text x="42.24" y="2142.04" font-size="29.9" textLength="35.75" lengthAdjust="spacingAndGlyphs">0.8</text>
<text x="42.24" y="2195.68" font-size="29.9" textLength="35.75" lengthAdjust="spacingAndGlyphs">0.6</text>
<text x="42.24" y="2249.32" font-size="29.9" textLength="35.75" lengthAdjust="spacingAndGlyphs">0.4</text>
<text x="42.24" y="2302.96" font-size="29.9" textLength="35.75" lengthAdjust="spacingAndGlyphs">0.2</text>
<text x="42.24" y="2356.60" font-size="29.9" textLength="35.75" lengthAdjust="spacingAndGlyphs">0.0</text>
<text x="71.72" y="2382.48" font-size="29.9" textLength="35.75" lengthAdjust="spacingAndGlyphs">0.0</text>
<text x="160.94" y="2382.48" font-size="29.9" textLength="35.75" lengthAdjust="spacingAndGlyphs">0.2</text>
<text x="250.16" y="2382.48" font-size="29.9" textLength="35.75" lengthAdjust="spacingAndGlyphs">0.4</text>
<text x="339.38" y="2382.48" font-size="29.9" textLength="35.75" lengthAdjust="spacingAndGlyphs">0.6</text>
<text x="428.61" y="2382.48" font-size="29.9" textLength="35.75" lengthAdjust="spacingAndGlyphs">0.8</text>
<text x="517.83" y="2382.48" font-size="29.9" textLength="35.75" lengthAdjust="spacingAndGlyphs">1.0</text>
<text x="130.66" y="2419.80" font-size="30.4" textLength="336.47" lengthAdjust="spacingAndGlyphs">CSDM 0.4 in THUMS sliding</text>
<text transform="translate(23.00,2269.75) rotate(-90)" font-size="29.3" textLength="131.77" lengthAdjust="spacingAndGlyphs">Probability</text>
<g fill="none" stroke="#0866b3" stroke-width="2.9"><circle cx="227.9" cy="2087.5" r="3.8"/><circle cx="275.3" cy="2087.5" r="3.8"/><circle cx="282.3" cy="2087.5" r="3.8"/><circle cx="298.6" cy="2087.5" r="3.8"/><circle cx="322.3" cy="2087.5" r="3.8"/><circle cx="325.2" cy="2087.5" r="3.8"/><circle cx="339.5" cy="2087.5" r="3.8"/><circle cx="377.0" cy="2087.5" r="3.8"/><circle cx="388.0" cy="2087.5" r="3.8"/><circle cx="389.5" cy="2087.5" r="3.8"/><circle cx="391.0" cy="2087.5" r="3.8"/><circle cx="392.5" cy="2087.5" r="3.8"/><circle cx="394.0" cy="2087.5" r="3.8"/><circle cx="395.5" cy="2087.5" r="3.8"/><circle cx="397.0" cy="2087.5" r="3.8"/><circle cx="398.5" cy="2087.5" r="3.8"/><circle cx="400.0" cy="2087.5" r="3.8"/><circle cx="401.5" cy="2087.5" r="3.8"/><circle cx="403.0" cy="2087.5" r="3.8"/><circle cx="404.5" cy="2087.5" r="3.8"/><circle cx="406.0" cy="2087.5" r="3.8"/><circle cx="407.5" cy="2087.5" r="3.8"/><circle cx="409.0" cy="2087.5" r="3.8"/><circle cx="410.5" cy="2087.5" r="3.8"/><circle cx="412.0" cy="2087.5" r="3.8"/><circle cx="413.5" cy="2087.5" r="3.8"/><circle cx="415.0" cy="2087.5" r="3.8"/><circle cx="416.5" cy="2087.5" r="3.8"/><circle cx="418.0" cy="2087.5" r="3.8"/><circle cx="419.5" cy="2087.5" r="3.8"/><circle cx="421.0" cy="2087.5" r="3.8"/><circle cx="422.5" cy="2087.5" r="3.8"/><circle cx="424.0" cy="2087.5" r="3.8"/><circle cx="425.5" cy="2087.5" r="3.8"/><circle cx="427.0" cy="2087.5" r="3.8"/><circle cx="118.8" cy="2352.9" r="3.8"/><circle cx="137.2" cy="2352.9" r="3.8"/><circle cx="200.6" cy="2352.9" r="3.8"/><circle cx="203.4" cy="2352.9" r="3.8"/><circle cx="248.4" cy="2352.9" r="3.8"/><circle cx="259.8" cy="2352.9" r="3.8"/><circle cx="326.4" cy="2352.9" r="3.8"/><circle cx="331.0" cy="2352.9" r="3.8"/><circle cx="335.0" cy="2352.9" r="3.8"/><circle cx="339.0" cy="2352.9" r="3.8"/><circle cx="343.6" cy="2352.9" r="3.8"/><circle cx="377.5" cy="2352.9" r="3.8"/><circle cx="396.7" cy="2352.9" r="3.8"/></g>
<polyline points="91.6,2347.6 93.8,2347.4 96.1,2347.1 98.3,2346.9 100.6,2346.6 102.8,2346.4 105.0,2346.1 107.3,2345.8 109.5,2345.5 111.7,2345.2 114.0,2344.9 116.2,2344.5 118.5,2344.2 120.7,2343.8 122.9,2343.4 125.2,2343.0 127.4,2342.6 129.6,2342.2 131.9,2341.8 134.1,2341.3 136.4,2340.8 138.6,2340.3 140.8,2339.8 143.1,2339.3 145.3,2338.7 147.6,2338.1 149.8,2337.5 152.0,2336.9 154.3,2336.3 156.5,2335.6 158.7,2334.9 161.0,2334.2 163.2,2333.4 165.5,2332.6 167.7,2331.8 169.9,2331.0 172.2,2330.1 174.4,2329.2 176.6,2328.3 178.9,2327.3 181.1,2326.3 183.4,2325.3 185.6,2324.2 187.8,2323.1 190.1,2322.0 192.3,2320.8 194.5,2319.6 196.8,2318.4 199.0,2317.1 201.3,2315.7 203.5,2314.4 205.7,2312.9 208.0,2311.5 210.2,2310.0 212.5,2308.4 214.7,2306.8 216.9,2305.2 219.2,2303.5 221.4,2301.8 223.6,2300.0 225.9,2298.2 228.1,2296.4 230.4,2294.4 232.6,2292.5 234.8,2290.5 237.1,2288.5 239.3,2286.4 241.5,2284.2 243.8,2282.1 246.0,2279.8 248.3,2277.6 250.5,2275.3 252.7,2272.9 255.0,2270.5 257.2,2268.1 259.5,2265.6 261.7,2263.1 263.9,2260.6 266.2,2258.0 268.4,2255.5 270.6,2252.8 272.9,2250.2 275.1,2247.5 277.4,2244.8 279.6,2242.1 281.8,2239.3 284.1,2236.6 286.3,2233.8 288.5,2231.0 290.8,2228.2 293.0,2225.4 295.3,2222.6 297.5,2219.8 299.7,2217.0 302.0,2214.2 304.2,2211.4 306.4,2208.6 308.7,2205.8 310.9,2203.0 313.2,2200.3 315.4,2197.5 317.6,2194.8 319.9,2192.1 322.1,2189.4 324.4,2186.8 326.6,2184.2 328.8,2181.6 331.1,2179.0 333.3,2176.5 335.5,2174.0 337.8,2171.6 340.0,2169.2 342.3,2166.8 344.5,2164.5 346.7,2162.2 349.0,2159.9 351.2,2157.7 353.4,2155.5 355.7,2153.4 357.9,2151.3 360.2,2149.3 362.4,2147.3 364.6,2145.4 366.9,2143.5 369.1,2141.6 371.4,2139.8 373.6,2138.1 375.8,2136.4 378.1,2134.7 380.3,2133.1 382.5,2131.5 384.8,2130.0 387.0,2128.5 389.3,2127.0 391.5,2125.6 393.7,2124.3 396.0,2123.0 398.2,2121.7 400.4,2120.4 402.7,2119.2 404.9,2118.1 407.2,2116.9 409.4,2115.8 411.6,2114.8 413.9,2113.8 416.1,2112.8 418.3,2111.8 420.6,2110.9 422.8,2110.0 425.1,2109.2 427.3,2108.3 429.5,2107.5 431.8,2106.8 434.0,2106.0 436.3,2105.3 438.5,2104.6 440.7,2104.0 443.0,2103.3 445.2,2102.7 447.4,2102.1 449.7,2101.5 451.9,2101.0 454.2,2100.4 456.4,2099.9 458.6,2099.4 460.9,2099.0 463.1,2098.5 465.3,2098.1 467.6,2097.6 469.8,2097.2 472.1,2096.9 474.3,2096.5 476.5,2096.1 478.8,2095.8 481.0,2095.4 483.2,2095.1 485.5,2094.8 487.7,2094.5 490.0,2094.2 492.2,2094.0 494.4,2093.7 496.7,2093.4 498.9,2093.2 501.2,2093.0 503.4,2092.8 505.6,2092.5 507.9,2092.3 510.1,2092.1 512.3,2091.9 514.6,2091.8 516.8,2091.6 519.1,2091.4 521.3,2091.3 523.5,2091.1 525.8,2091.0 528.0,2090.8 530.2,2090.7 532.5,2090.6 534.7,2090.4 537.0,2090.3 539.2,2090.2" fill="none" stroke="#c14c12" stroke-width="2.9" stroke-linejoin="round"/>
<line x1="279.4" y1="2245.7" x2="302.7" y2="2271.5" stroke="#333" stroke-width="0.9"/>
<g fill="#111" stroke="#111" stroke-width="0.25">
<text x="275.6" y="2303.7" font-size="22.5" font-style="italic" textLength="13.2" lengthAdjust="spacingAndGlyphs">P</text>
<path d="M295.5,2294.8H308.0M295.5,2299.7H308.0" stroke="#111" stroke-width="1.3"/>
<path d="M315.3,2297.1H500.4" stroke="#111" stroke-width="1.4"/>
<text x="408.4" y="2287.1" font-size="21.2" text-anchor="middle">1</text>
<text x="315.2" y="2317.9" font-size="21.2">1</text>
<path d="M332.8,2311.3H344.8M338.8,2305.0V2317.6" stroke="#111" stroke-width="1.3"/>
<text x="352.2" y="2317.9" font-size="21.2" font-style="italic">e</text>
<path d="M363.9,2306.1H373.5" stroke="#111" stroke-width="1.2"/>
<text x="374.8" y="2311.3" font-size="15.3" stroke-width="0.35" textLength="70.2" lengthAdjust="spacingAndGlyphs">8.47<tspan font-style="italic">CSDM</tspan></text>
<text x="445.7" y="2317.6" font-size="10.8">0</text>
<circle cx="452.9" cy="2321.9" r="0.75"/>
<text x="454.0" y="2317.6" font-size="10.8">4</text>
<text x="460.9" y="2311.3" font-size="15.3" stroke-width="0.35" textLength="38.7" lengthAdjust="spacingAndGlyphs">+3.89</text>
</g>
<rect x="679" y="2085" width="447" height="266" fill="none" stroke="#909090" stroke-width="1.7"/>
<path d="M768.7,2350.9v-4.5M768.7,2085.0v4.5M679.3,2297.7h4.5M1126.3,2297.7h-4.5M858.1,2350.9v-4.5M858.1,2085.0v4.5M679.3,2244.5h4.5M1126.3,2244.5h-4.5M947.5,2350.9v-4.5M947.5,2085.0v4.5M679.3,2191.4h4.5M1126.3,2191.4h-4.5M1036.9,2350.9v-4.5M1036.9,2085.0v4.5M679.3,2138.2h4.5M1126.3,2138.2h-4.5" stroke="#4a4a4a" stroke-width="1.1" fill="none"/>
<text x="631.14" y="2088.40" font-size="29.9" textLength="35.75" lengthAdjust="spacingAndGlyphs">1.0</text>
<text x="631.14" y="2142.04" font-size="29.9" textLength="35.75" lengthAdjust="spacingAndGlyphs">0.8</text>
<text x="631.14" y="2195.68" font-size="29.9" textLength="35.75" lengthAdjust="spacingAndGlyphs">0.6</text>
<text x="631.14" y="2249.32" font-size="29.9" textLength="35.75" lengthAdjust="spacingAndGlyphs">0.4</text>
<text x="631.14" y="2302.96" font-size="29.9" textLength="35.75" lengthAdjust="spacingAndGlyphs">0.2</text>
<text x="631.14" y="2356.60" font-size="29.9" textLength="35.75" lengthAdjust="spacingAndGlyphs">0.0</text>
<text x="659.42" y="2383.18" font-size="29.9" textLength="35.75" lengthAdjust="spacingAndGlyphs">0.0</text>
<text x="749.00" y="2383.18" font-size="29.9" textLength="35.75" lengthAdjust="spacingAndGlyphs">0.2</text>
<text x="838.59" y="2383.18" font-size="29.9" textLength="35.75" lengthAdjust="spacingAndGlyphs">0.4</text>
<text x="928.16" y="2383.18" font-size="29.9" textLength="35.75" lengthAdjust="spacingAndGlyphs">0.6</text>
<text x="1017.74" y="2383.18" font-size="29.9" textLength="35.75" lengthAdjust="spacingAndGlyphs">0.8</text>
<text x="1107.33" y="2383.18" font-size="29.9" textLength="35.75" lengthAdjust="spacingAndGlyphs">1.0</text>
<text x="711.97" y="2419.80" font-size="30.4" textLength="356.28" lengthAdjust="spacingAndGlyphs">CSDM 0.4 in THUMS MATpro</text>
<text transform="translate(612.00,2269.75) rotate(-90)" font-size="29.3" textLength="131.77" lengthAdjust="spacingAndGlyphs">Probability</text>
<g fill="none" stroke="#0866b3" stroke-width="2.9"><circle cx="999.0" cy="2085.0" r="3.8"/><circle cx="1053.3" cy="2085.0" r="3.8"/><circle cx="1065.6" cy="2085.0" r="3.8"/><circle cx="1076.6" cy="2085.0" r="3.8"/><circle cx="1088.9" cy="2085.0" r="3.8"/><circle cx="1101.1" cy="2085.0" r="3.8"/><circle cx="1102.6" cy="2085.0" r="3.8"/><circle cx="1104.1" cy="2085.0" r="3.8"/><circle cx="1105.6" cy="2085.0" r="3.8"/><circle cx="1107.1" cy="2085.0" r="3.8"/><circle cx="1108.6" cy="2085.0" r="3.8"/><circle cx="1110.1" cy="2085.0" r="3.8"/><circle cx="1111.6" cy="2085.0" r="3.8"/><circle cx="1113.1" cy="2085.0" r="3.8"/><circle cx="1114.6" cy="2085.0" r="3.8"/><circle cx="1116.1" cy="2085.0" r="3.8"/><circle cx="1117.6" cy="2085.0" r="3.8"/><circle cx="1119.1" cy="2085.0" r="3.8"/><circle cx="1120.6" cy="2085.0" r="3.8"/><circle cx="1122.1" cy="2085.0" r="3.8"/><circle cx="1123.6" cy="2085.0" r="3.8"/><circle cx="696.6" cy="2350.9" r="3.8"/><circle cx="707.6" cy="2350.9" r="3.8"/><circle cx="954.8" cy="2350.9" r="3.8"/><circle cx="993.7" cy="2350.9" r="3.8"/><circle cx="1045.2" cy="2350.9" r="3.8"/><circle cx="1056.2" cy="2350.9" r="3.8"/><circle cx="1084.8" cy="2350.9" r="3.8"/><circle cx="1086.4" cy="2350.9" r="3.8"/><circle cx="1088.1" cy="2350.9" r="3.8"/><circle cx="1089.7" cy="2350.9" r="3.8"/><circle cx="1091.4" cy="2350.9" r="3.8"/><circle cx="1093.0" cy="2350.9" r="3.8"/><circle cx="1109.3" cy="2350.9" r="3.8"/><circle cx="1117.5" cy="2350.9" r="3.8"/></g>
<polyline points="679.3,2350.9 681.5,2350.9 683.8,2350.9 686.0,2350.9 688.2,2350.8 690.5,2350.8 692.7,2350.8 694.9,2350.8 697.2,2350.8 699.4,2350.8 701.6,2350.8 703.9,2350.8 706.1,2350.8 708.4,2350.8 710.6,2350.8 712.8,2350.8 715.1,2350.8 717.3,2350.8 719.5,2350.8 721.8,2350.8 724.0,2350.8 726.2,2350.8 728.5,2350.8 730.7,2350.8 732.9,2350.8 735.2,2350.7 737.4,2350.7 739.6,2350.7 741.9,2350.7 744.1,2350.7 746.3,2350.7 748.6,2350.7 750.8,2350.7 753.1,2350.7 755.3,2350.7 757.5,2350.6 759.8,2350.6 762.0,2350.6 764.2,2350.6 766.5,2350.6 768.7,2350.6 770.9,2350.5 773.2,2350.5 775.4,2350.5 777.6,2350.5 779.9,2350.5 782.1,2350.4 784.3,2350.4 786.6,2350.4 788.8,2350.4 791.0,2350.3 793.3,2350.3 795.5,2350.3 797.8,2350.2 800.0,2350.2 802.2,2350.1 804.5,2350.1 806.7,2350.1 808.9,2350.0 811.2,2350.0 813.4,2349.9 815.6,2349.9 817.9,2349.8 820.1,2349.7 822.3,2349.7 824.6,2349.6 826.8,2349.5 829.0,2349.5 831.3,2349.4 833.5,2349.3 835.8,2349.2 838.0,2349.1 840.2,2349.0 842.5,2348.9 844.7,2348.8 846.9,2348.7 849.2,2348.6 851.4,2348.5 853.6,2348.3 855.9,2348.2 858.1,2348.1 860.3,2347.9 862.6,2347.8 864.8,2347.6 867.0,2347.4 869.3,2347.2 871.5,2347.0 873.7,2346.8 876.0,2346.6 878.2,2346.4 880.4,2346.1 882.7,2345.9 884.9,2345.6 887.2,2345.3 889.4,2345.0 891.6,2344.7 893.9,2344.4 896.1,2344.0 898.3,2343.6 900.6,2343.2 902.8,2342.8 905.0,2342.4 907.3,2342.0 909.5,2341.5 911.7,2341.0 914.0,2340.5 916.2,2339.9 918.4,2339.4 920.7,2338.8 922.9,2338.1 925.1,2337.5 927.4,2336.8 929.6,2336.0 931.9,2335.3 934.1,2334.5 936.3,2333.6 938.6,2332.8 940.8,2331.8 943.0,2330.9 945.3,2329.9 947.5,2328.8 949.7,2327.7 952.0,2326.6 954.2,2325.3 956.4,2324.1 958.7,2322.8 960.9,2321.4 963.1,2320.0 965.4,2318.5 967.6,2317.0 969.8,2315.4 972.1,2313.7 974.3,2311.9 976.6,2310.1 978.8,2308.3 981.0,2306.3 983.3,2304.3 985.5,2302.2 987.7,2300.1 990.0,2297.9 992.2,2295.6 994.4,2293.2 996.7,2290.8 998.9,2288.2 1001.1,2285.7 1003.4,2283.0 1005.6,2280.3 1007.8,2277.5 1010.1,2274.6 1012.3,2271.7 1014.5,2268.7 1016.8,2265.6 1019.0,2262.5 1021.3,2259.4 1023.5,2256.1 1025.7,2252.9 1028.0,2249.5 1030.2,2246.2 1032.4,2242.8 1034.7,2239.4 1036.9,2235.9 1039.1,2232.4 1041.4,2228.9 1043.6,2225.4 1045.8,2221.8 1048.1,2218.3 1050.3,2214.8 1052.5,2211.2 1054.8,2207.7 1057.0,2204.2 1059.2,2200.7 1061.5,2197.2 1063.7,2193.8 1066.0,2190.4 1068.2,2187.0 1070.4,2183.7 1072.7,2180.4 1074.9,2177.2 1077.1,2174.0 1079.4,2170.9 1081.6,2167.8 1083.8,2164.8 1086.1,2161.9 1088.3,2159.0 1090.5,2156.2 1092.8,2153.4 1095.0,2150.8 1097.2,2148.2 1099.5,2145.7 1101.7,2143.2 1103.9,2140.8 1106.2,2138.5 1108.4,2136.3 1110.7,2134.1 1112.9,2132.0 1115.1,2130.0 1117.4,2128.0 1119.6,2126.1 1121.8,2124.3 1124.1,2122.6 1126.3,2120.9" fill="none" stroke="#c14c12" stroke-width="2.9" stroke-linejoin="round"/>
<line x1="976.5" y1="2260.0" x2="1000.2" y2="2283.3" stroke="#333" stroke-width="0.9"/>
<g fill="#111" stroke="#111" stroke-width="0.25">
<text x="729.4" y="2262.8" font-size="22.5" font-style="italic" textLength="13.2" lengthAdjust="spacingAndGlyphs">P</text>
<path d="M749.3,2253.9H761.8M749.3,2258.8H761.8" stroke="#111" stroke-width="1.3"/>
<path d="M769.7,2256.2H972.6" stroke="#111" stroke-width="1.4"/>
<text x="871.7" y="2246.2" font-size="21.2" text-anchor="middle">1</text>
<text x="769.6" y="2277.0" font-size="21.2">1</text>
<path d="M787.2,2270.4H799.2M793.2,2264.1V2276.7" stroke="#111" stroke-width="1.3"/>
<text x="806.6" y="2277.0" font-size="21.2" font-style="italic">e</text>
<path d="M818.3,2265.2H827.9" stroke="#111" stroke-width="1.2"/>
<text x="829.2" y="2270.4" font-size="15.3" stroke-width="0.35" textLength="88.2" lengthAdjust="spacingAndGlyphs">581.35<tspan font-style="italic">CSDM</tspan></text>
<text x="918.1" y="2276.7" font-size="10.8">0</text>
<circle cx="925.3" cy="2281.0" r="0.75"/>
<text x="926.4" y="2276.7" font-size="10.8">4</text>
<text x="933.3" y="2270.4" font-size="15.3" stroke-width="0.35" textLength="38.5" lengthAdjust="spacingAndGlyphs">+1.08</text>
</g>
<rect x="720.5" y="2141.5" width="256.0" height="78.5" fill="#fff" stroke="#8a8a8a" stroke-width="1.2"/>
<circle cx="763.2" cy="2171.3" r="5.3" fill="none" stroke="#0866b3" stroke-width="3.6"/>
<line x1="731.5" y1="2202.6" x2="792.6" y2="2202.6" stroke="#c14c12" stroke-width="2.8"/>
<text x="802.00" y="2173.00" font-size="30.0" textLength="160.77" lengthAdjust="spacingAndGlyphs">DAI / No DAI</text>
<text x="802.00" y="2206.90" font-size="30.0" textLength="123.08" lengthAdjust="spacingAndGlyphs">Regression</text>
<text x="198.14" y="764.70" font-size="35.3" textLength="39.42" lengthAdjust="spacingAndGlyphs">(a)</text>
<text x="260.61" y="764.70" font-size="35.3" textLength="710.20" lengthAdjust="spacingAndGlyphs">Logistic fit curves for the maximum principal strain</text>
<text x="162.61" y="1612.90" font-size="33.0" textLength="36.88" lengthAdjust="spacingAndGlyphs">(b)</text>
<text x="218.52" y="1612.90" font-size="33.0" textLength="772.10" lengthAdjust="spacingAndGlyphs">Logistic fit curves for the maximum principal stress, unit: MPa</text>
<text x="368.51" y="2469.60" font-size="32.8" textLength="35.19" lengthAdjust="spacingAndGlyphs">(c)</text>
<text x="424.32" y="2469.60" font-size="32.8" textLength="360.38" lengthAdjust="spacingAndGlyphs">Logistic fit curves for CSDM</text>
</svg>
</body></html>
